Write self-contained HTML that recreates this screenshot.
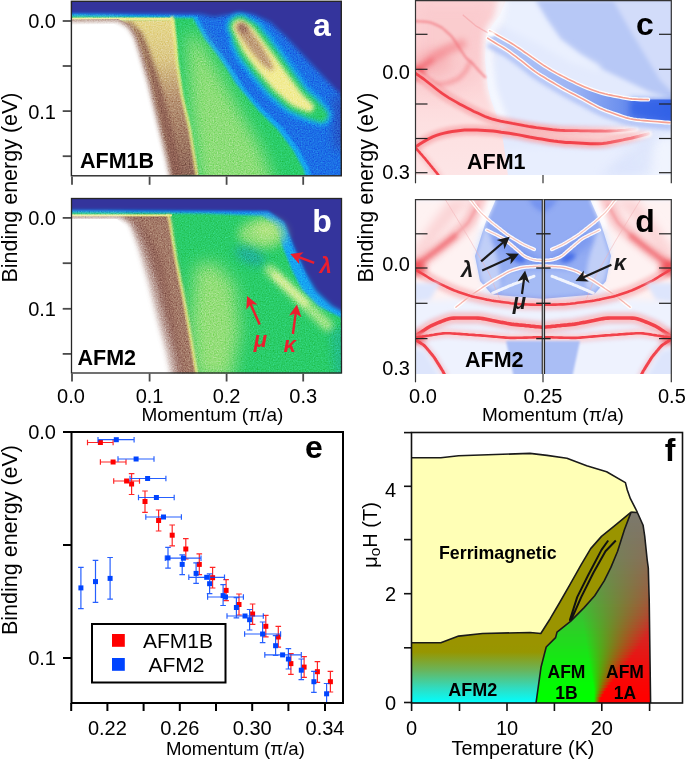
<!DOCTYPE html><html><head><meta charset="utf-8"><style>
html,body{margin:0;padding:0;background:#fff;width:685px;height:760px;overflow:hidden}
svg{display:block;font-family:"Liberation Sans",sans-serif;will-change:transform}
</style></head><body>
<svg width="685" height="760" viewBox="0 0 685 760">
<defs>
<clipPath id="cpa"><rect x="71.5" y="1.5" width="270" height="174"/></clipPath>
<clipPath id="cpb"><rect x="71.5" y="198.5" width="270" height="175"/></clipPath>
<clipPath id="cpc"><rect x="415.5" y="0.5" width="256" height="174.5"/></clipPath>
<clipPath id="cpd"><rect x="415.5" y="199.5" width="256" height="174.5"/></clipPath>
<clipPath id="cpe"><rect x="72.5" y="433" width="269.5" height="269"/></clipPath>
<clipPath id="cpf"><rect x="411.5" y="432.5" width="271" height="270.5"/></clipPath>
</defs>

<defs>
<filter id="bl1" filterUnits="userSpaceOnUse" x="0" y="0" width="685" height="760"><feGaussianBlur stdDeviation="1"/></filter>
<filter id="bl2" filterUnits="userSpaceOnUse" x="0" y="0" width="685" height="760"><feGaussianBlur stdDeviation="2"/></filter>
<filter id="bl3" filterUnits="userSpaceOnUse" x="0" y="0" width="685" height="760"><feGaussianBlur stdDeviation="3"/></filter>
<filter id="bl5" filterUnits="userSpaceOnUse" x="0" y="0" width="685" height="760"><feGaussianBlur stdDeviation="5"/></filter>
<filter id="bl8" filterUnits="userSpaceOnUse" x="0" y="0" width="685" height="760"><feGaussianBlur stdDeviation="8"/></filter>
<filter id="nz" x="0" y="0" width="100%" height="100%" color-interpolation-filters="sRGB"><feTurbulence type="fractalNoise" baseFrequency="0.75" numOctaves="1" seed="7"/><feColorMatrix type="matrix" values="0.33 0.33 0.33 0 0  0.33 0.33 0.33 0 0  0.33 0.33 0.33 0 0  0 0 0 0 1"/><feComponentTransfer><feFuncR type="linear" slope="2.2" intercept="-0.6"/><feFuncG type="linear" slope="2.2" intercept="-0.6"/><feFuncB type="linear" slope="2.2" intercept="-0.6"/></feComponentTransfer></filter>
<linearGradient id="gband" x1="0" y1="20" x2="0" y2="176" gradientUnits="userSpaceOnUse">
<stop offset="0" stop-color="#e6d88c"/><stop offset="0.25" stop-color="#dcc888"/><stop offset="0.5" stop-color="#b89474"/><stop offset="1" stop-color="#8e6558"/></linearGradient>
<linearGradient id="gband2" x1="0" y1="217" x2="0" y2="373" gradientUnits="userSpaceOnUse">
<stop offset="0" stop-color="#b89078"/><stop offset="0.3" stop-color="#9a7062"/><stop offset="1" stop-color="#8e6558"/></linearGradient>
</defs><g clip-path="url(#cpa)"><rect x="60" y="0" width="290" height="180" fill="#34349c"/><polygon points="60,13.5 200,14 214,17 226,15 238,13.5 252,14 270,22 286,37 301,53 318,71 335,89 350,102 350,190 60,190" fill="#1c6fe6" filter="url(#bl2)" /><polygon points="332,96 350,96 350,150 334,150" fill="#34349c" filter="url(#bl5)" opacity="0.45"/><polygon points="60,14 197,16 208,37 220,52 231,67 240,81 246,90 262,108 283,128 298,148 309,168 314,190 60,190" fill="#12a6f2" filter="url(#bl1)" /><polygon points="60,16 193,18 204.6,39.2 216.3,53.8 226.5,68.4 235.3,83 242,91 258,110 278,130 293,150 304,170 308,190 60,190" fill="#2ccd6a" filter="url(#bl1)" /><polygon points="186,30 200,40 218,70 240,110 262,150 276,190 200,190 190,110" fill="#a8e27e" filter="url(#bl8)" opacity="0.8"/><polygon points="250.4,17.8 252.1,18.1 254.2,18.7 256.7,19.9 259.2,21.3 261.3,23.2 263.0,25.2 264.6,27.2 266.0,29.0 267.3,30.6 268.5,32.0 269.7,33.3 270.8,34.6 271.8,36.0 272.8,37.4 274.0,39.0 275.3,40.7 276.5,42.4 277.8,44.0 279.0,45.7 280.3,47.4 281.5,49.0 282.7,50.6 283.9,52.3 285.1,53.9 286.3,55.6 287.5,57.3 288.7,59.0 289.9,60.7 291.2,62.4 292.4,64.1 293.6,65.8 294.7,67.4 295.7,68.8 296.8,70.2 297.8,71.7 298.8,73.2 299.9,74.8 301.2,76.6 302.4,78.3 303.7,80.0 304.9,81.7 305.9,83.1 306.6,84.2 307.3,85.2 308.1,86.1 308.8,87.1 310.0,88.2 311.5,89.6 313.1,91.0 314.7,92.4 316.4,93.8 318.0,95.3 319.5,96.9 321.0,98.6 322.4,100.2 323.8,101.9 325.3,103.5 326.3,105.0 327.1,106.1 330.1,109.2 331.7,113.1 331.7,117.4 330.1,121.4 327.1,124.4 323.1,126.1 318.8,126.1 314.9,124.5 313.5,124.2 311.8,123.8 309.7,123.1 307.6,122.4 305.6,121.8 303.5,121.1 301.5,120.5 299.6,119.6 297.7,118.8 295.8,117.9 293.9,117.0 291.9,116.1 289.5,114.9 287.0,113.4 284.5,111.8 282.1,110.0 279.8,108.1 278.0,106.4 276.4,105.0 274.8,103.6 273.2,102.3 271.6,100.9 269.9,99.4 268.1,97.8 266.4,96.1 264.7,94.3 263.1,92.5 261.7,90.7 260.3,89.1 258.9,87.5 257.6,85.9 256.2,84.3 254.9,82.7 253.5,81.1 252.1,79.4 250.7,77.8 249.3,76.1 248.0,74.3 246.7,72.6 245.4,70.9 244.2,69.2 242.9,67.6 241.7,65.9 240.4,64.2 239.1,62.4 237.6,60.5 236.2,58.4 235.0,56.3 233.9,54.1 232.8,51.9 231.9,49.9 231.1,48.1 230.5,46.5 229.9,45.2 229.5,43.6 229.5,41.7 229.3,39.6 229.1,37.8 229.2,36.1 226.5,31.3 225.9,25.9 227.3,20.6 230.7,16.3 235.5,13.6 240.9,13.0 246.2,14.5" fill="#12a6f2" filter="url(#bl2)" /><polygon points="248.2,19.8 249.6,20.2 251.4,21.1 253.5,22.4 255.7,24.0 257.6,25.7 259.3,27.7 260.8,29.6 262.2,31.3 263.5,32.9 264.7,34.4 265.9,35.8 267.1,37.1 268.1,38.6 269.2,40.1 270.4,41.7 271.7,43.4 272.9,45.1 274.2,46.7 275.4,48.4 276.7,50.1 277.9,51.7 279.2,53.3 280.4,55.0 281.5,56.7 282.7,58.3 283.9,60.0 285.2,61.8 286.4,63.5 287.6,65.2 288.8,66.9 290.0,68.6 291.2,70.2 292.3,71.7 293.4,73.1 294.4,74.7 295.5,76.3 296.6,77.9 297.9,79.6 299.1,81.3 300.4,83.0 301.6,84.7 302.6,86.2 303.5,87.5 304.4,88.6 305.3,89.7 306.3,90.8 307.5,92.0 309.1,93.4 310.7,94.8 312.3,96.2 313.9,97.6 315.5,99.0 317.0,100.6 318.5,102.2 320.0,103.8 321.5,105.4 323.0,107.0 324.1,108.4 324.8,109.5 326.8,111.4 327.8,113.9 327.8,116.7 326.8,119.2 324.8,121.1 322.3,122.2 319.6,122.2 317.1,121.1 315.7,120.9 314.1,120.3 312.0,119.6 310.0,118.9 308.0,118.1 306.0,117.4 304.0,116.7 302.1,115.8 300.2,115.0 298.3,114.1 296.3,113.2 294.3,112.3 292.1,111.2 289.7,109.9 287.4,108.4 285.2,106.7 283.1,105.0 281.3,103.4 279.7,102.0 278.1,100.6 276.5,99.2 274.9,97.8 273.2,96.4 271.5,94.8 269.8,93.2 268.2,91.5 266.7,89.7 265.2,88.0 263.8,86.4 262.5,84.7 261.1,83.1 259.8,81.5 258.4,79.9 257.0,78.3 255.7,76.7 254.3,75.0 252.9,73.4 251.6,71.6 250.3,69.9 249.0,68.2 247.8,66.5 246.5,64.9 245.3,63.2 244.0,61.5 242.7,59.7 241.3,57.8 239.9,55.9 238.7,53.8 237.6,51.6 236.7,49.5 235.8,47.6 235.0,45.7 234.2,44.1 233.6,42.6 233.0,41.0 232.6,39.2 232.1,37.3 231.7,35.6 231.5,34.1 229.4,30.4 228.9,26.1 230.0,22.0 232.7,18.6 236.4,16.5 240.7,16.0 244.8,17.1" fill="#2ccd6a" filter="url(#bl2)" /><polygon points="245.4,22.0 246.5,22.5 247.9,23.3 249.6,24.5 251.3,25.8 253.0,27.3 254.4,28.9 255.7,30.6 256.9,32.3 258.1,33.7 259.2,35.2 260.3,36.6 261.3,37.9 262.4,39.2 263.3,40.6 264.3,41.9 265.3,43.3 266.4,44.7 267.5,46.2 268.7,47.7 269.8,49.2 270.9,50.7 272.0,52.2 273.1,53.6 274.2,55.1 275.3,56.5 276.4,58.0 277.4,59.5 278.5,61.0 279.5,62.5 280.6,64.0 281.7,65.5 282.8,67.0 283.8,68.5 284.9,70.0 286.0,71.5 287.1,73.0 288.1,74.4 289.1,75.7 290.0,77.1 291.0,78.5 292.0,80.0 293.1,81.5 294.2,83.0 295.3,84.5 296.4,86.0 297.5,87.5 298.6,89.0 299.5,90.4 300.4,91.5 301.3,92.6 302.2,93.8 303.2,94.9 304.4,96.1 305.8,97.4 307.2,98.7 308.6,99.9 309.9,101.2 311.0,102.3 311.8,103.2 313.2,104.5 313.9,106.3 314.0,108.3 313.3,110.1 311.9,111.5 310.1,112.3 308.2,112.3 306.4,111.6 305.2,111.3 303.8,110.8 302.1,110.0 300.3,109.3 298.6,108.6 296.8,107.9 294.9,107.0 292.9,106.0 291.0,104.9 289.2,103.5 287.4,102.1 285.8,100.7 284.4,99.5 283.0,98.3 281.6,97.0 280.2,95.8 278.8,94.6 277.3,93.4 275.9,92.1 274.4,90.7 272.9,89.3 271.6,87.7 270.3,86.2 269.0,84.8 267.8,83.3 266.6,81.9 265.4,80.5 264.2,79.1 263.0,77.7 261.8,76.3 260.6,74.8 259.4,73.4 258.2,71.9 257.0,70.5 255.9,69.0 254.7,67.5 253.6,66.0 252.5,64.5 251.4,63.0 250.3,61.5 249.1,60.0 248.0,58.5 246.9,57.0 245.7,55.4 244.5,53.8 243.4,52.0 242.4,50.2 241.5,48.4 240.6,46.7 239.8,45.0 239.0,43.3 238.2,41.8 237.5,40.4 236.8,39.0 236.3,37.5 235.7,36.0 235.0,34.3 234.4,32.9 234.0,31.7 232.6,29.2 232.2,26.3 233.0,23.5 234.8,21.2 237.4,19.7 240.3,19.4 243.1,20.2" fill="#f2ec96" filter="url(#bl2)" /><polygon points="243.8,24.5 244.2,24.8 244.8,25.2 245.5,25.8 246.2,26.4 246.9,27.0 247.6,27.6 248.3,28.2 249.0,28.8 249.7,29.4 250.5,30.1 251.1,30.9 251.7,31.7 252.3,32.5 252.8,33.2 253.3,33.9 253.9,34.7 254.4,35.4 254.9,36.1 255.4,36.9 255.9,37.6 256.5,38.3 257.0,39.0 257.5,39.8 258.0,40.5 258.5,41.2 259.1,42.0 259.6,42.7 260.1,43.4 260.6,44.1 261.1,44.9 261.6,45.7 262.0,46.4 262.5,47.2 262.9,48.0 263.4,48.8 263.9,49.5 264.3,50.3 264.8,51.1 265.2,51.9 265.7,52.6 266.1,53.4 266.6,54.2 267.1,55.0 267.5,55.7 268.0,56.5 268.4,57.3 268.8,58.0 269.3,58.7 269.7,59.4 270.0,60.2 270.3,61.0 270.7,61.8 271.1,62.7 271.5,63.5 271.9,64.3 272.3,65.2 272.7,66.0 273.0,66.7 273.2,67.3 273.6,68.0 273.6,68.7 273.4,69.5 273.0,70.1 272.3,70.5 271.5,70.6 270.7,70.4 270.1,69.9 269.6,69.6 268.9,69.3 268.2,68.7 267.4,68.2 266.6,67.7 265.9,67.2 265.1,66.6 264.3,66.1 263.5,65.5 262.7,64.9 262.0,64.2 261.4,63.5 260.8,62.8 260.2,62.1 259.6,61.4 259.0,60.7 258.4,60.0 257.8,59.3 257.3,58.7 256.7,58.0 256.1,57.3 255.5,56.6 254.9,55.9 254.3,55.2 253.7,54.6 253.2,53.9 252.6,53.2 252.0,52.5 251.4,51.8 250.9,51.1 250.3,50.4 249.8,49.7 249.3,48.9 248.8,48.2 248.3,47.5 247.7,46.7 247.2,46.0 246.7,45.3 246.2,44.6 245.7,43.8 245.1,43.1 244.6,42.4 244.1,41.6 243.6,40.9 243.0,40.2 242.5,39.5 242.1,38.8 241.6,38.2 241.1,37.5 240.7,36.8 240.3,36.1 239.9,35.4 239.4,34.6 238.9,33.8 238.5,33.0 238.0,32.3 237.5,31.5 237.2,30.8 236.9,30.3 236.1,28.8 235.9,27.1 236.3,25.4 237.4,24.0 239.0,23.1 240.7,22.9 242.4,23.4" fill="#b68e74" filter="url(#bl2)" opacity="0.85"/><ellipse cx="243" cy="28" rx="6" ry="4" transform="rotate(50 243 28)" fill="#94645a" filter="url(#bl2)" opacity="0.8"/><polygon points="118,19.5 174,19 176,40 177,60 182,95 190,130 198,176 171,176 166,155 160,130 154,105 148,80 145,70 139,50 133,35 127,26" fill="url(#gband)" filter="url(#bl1)" /><polygon points="117,20 127,24 135,34 141,50 147,70 152,90 158,112 165,140 171,176 182,176 177,150 170,120 162,90 156,70 149,50 142,33 131,22" fill="#8e5e52" filter="url(#bl2)" opacity="0.85"/><polyline points="172,16 175,40 177,62 182,96 190,130 197,176" fill="none" stroke="#f0f08a" stroke-width="2.5" filter="url(#bl1)"/><rect x="60" y="17.6" width="112" height="2.6" fill="#ecea90" filter="url(#bl05)"/><polygon points="60,19.5 118,19 129,24 136,34 142,50 148,70 151,82 157,107 163,132 169,157 174,180 60,180" fill="#a07868" /><polygon points="60,22.5 117,22 125,27 130,36 136,51 141,71 144,81 150,106 156,131 162,156 167,180 60,180" fill="#ffffff" filter="url(#bl5)" opacity="0.8"/><polygon points="60,22.5 118,22 128,28 134,38 138,51 144,71 147,81 153,106 159,131 165,156 170,180 60,180" fill="#ffffff" filter="url(#bl2)" /><polygon points="60,24.5 114,24 122,29 128,38 134,53 140,73 143,83 149,108 155,133 161,158 165,180 60,180" fill="#ffffff" /><clipPath id="nca"><polygon points="60,14 200,14.5 214,17 226,15 238,13.5 252,14 270,22 286,37 301,53 318,71 335,89 350,102 350,190 60,190"/></clipPath><rect x="71" y="1" width="271" height="175" filter="url(#nz)" opacity="0.42" clip-path="url(#nca)" style="mix-blend-mode:overlay"/></g>
<g clip-path="url(#cpb)"><rect x="60" y="190" width="290" height="190" fill="#34349c"/><polygon points="60,210.3 205,211 268,211 284,222 294,248 304,270 314,292 330,308 350,316 350,380 60,380" fill="#1c6fe6" filter="url(#bl1)" /><polygon points="60,211.2 205,212 268,213 284,224 294,249 304,271 316,291 332,306 350,316 350,380 60,380" fill="#12a6f2" filter="url(#bl2)" /><polygon points="60,212.4 205,213.5 262,216 275,226 283,248 292,270 302,290 318,306 342,318 350,322 350,380 60,380" fill="#2ccd6a" filter="url(#bl1)" /><polygon points="195,265 215,262 235,285 240,330 232,380 195,380 190,320" fill="#a8e27e" filter="url(#bl8)" opacity="0.85"/><ellipse cx="262" cy="234" rx="24" ry="15" fill="#a8e27e" filter="url(#bl5)" opacity="0.8"/><ellipse cx="266" cy="230" rx="12" ry="9" fill="#c4e88a" filter="url(#bl5)" opacity="0.7"/><ellipse cx="250" cy="256" rx="16" ry="8" transform="rotate(25 250 256)" fill="#1ea8a8" filter="url(#bl5)" opacity="0.75"/><line x1="270" y1="270" x2="328" y2="326" stroke="#c8ec92" stroke-width="11" stroke-linecap="round" filter="url(#bl3)" opacity="0.8"/><line x1="276" y1="276" x2="305" y2="303" stroke="#e4f0a0" stroke-width="7" stroke-linecap="round" filter="url(#bl2)" opacity="0.8"/><polygon points="330,330 350,325 350,380 335,380" fill="#18a0c0" filter="url(#bl5)" opacity="0.35"/><polygon points="60,216 170,216 172,240 176,260 184,300 191,340 197,380 60,380" fill="#94665a" filter="url(#bl05)" /><polygon points="118,217 170,216.5 172,240 176,260 184,300 191,340 197,380 185,380 178,340 170,300 162,260 150,235 140,222" fill="#b08a74" filter="url(#bl3)" opacity="0.6"/><polyline points="168,214 170,222 176,260 184,300 191,340 197,376" fill="none" stroke="#f0f08a" stroke-width="2.6" filter="url(#bl1)"/><rect x="60" y="214.4" width="112" height="2" fill="#ecea90" filter="url(#bl05)"/><polygon points="60,218.5 122,218 133,225 143,248 154,283 164,323 172,353 178,380 60,380" fill="#ffffff" filter="url(#bl5)" opacity="0.7"/><polygon points="60,218.3 120,218 129,224 137,246 147,281 157,321 165,351 171,380 60,380" fill="#ffffff" filter="url(#bl2)" /><polygon points="60,219 117,219 125,226 132,248 141,283 151,323 158,353 164,380 60,380" fill="#ffffff" /><clipPath id="ncb"><polygon points="60,211 205,211.5 268,211.5 284,222 294,248 304,270 314,292 330,308 350,316 350,380 60,380"/></clipPath><rect x="71" y="198" width="271" height="176" filter="url(#nz)" opacity="0.42" clip-path="url(#ncb)" style="mix-blend-mode:overlay"/></g><line x1="314.2" y1="262.9" x2="296.9" y2="256.4" stroke="#ec1e2e" stroke-width="2.4"/><polygon points="290.2,253.9 303.6,252.3 298.6,257.1 299.3,263.9" fill="#ec1e2e"/><line x1="259.7" y1="324.5" x2="250.0" y2="302.7" stroke="#ec1e2e" stroke-width="2.4"/><polygon points="247.1,296.1 257.6,304.6 250.7,304.3 246.3,309.6" fill="#ec1e2e"/><line x1="292.9" y1="334.0" x2="295.9" y2="311.6" stroke="#ec1e2e" stroke-width="2.4"/><polygon points="296.9,304.5 301.4,317.2 295.7,313.4 289.1,315.6" fill="#ec1e2e"/><text x="325.5" y="272.9" font-size="22" font-weight="bold" font-style="italic" fill="#ec1e2e" text-anchor="middle">λ</text><text x="260.5" y="347" font-size="22" font-weight="bold" font-style="italic" fill="#ec1e2e" text-anchor="middle">μ</text><text x="289.8" y="351.8" font-size="22" font-weight="bold" font-style="italic" fill="#ec1e2e" text-anchor="middle">κ</text>
<defs><filter id="bl05" filterUnits="userSpaceOnUse" x="0" y="0" width="685" height="760"><feGaussianBlur stdDeviation="0.5"/></filter>
<linearGradient id="gpink" x1="0" y1="0" x2="0" y2="176" gradientUnits="userSpaceOnUse"><stop offset="0" stop-color="#fcd6d8"/><stop offset="0.45" stop-color="#fcd4d6"/><stop offset="0.7" stop-color="#fde0e1"/><stop offset="1" stop-color="#fde5e6"/></linearGradient>
<linearGradient id="gfA" x1="415" y1="0" x2="640" y2="0" gradientUnits="userSpaceOnUse"><stop offset="0" stop-color="#f2434c"/><stop offset="0.6" stop-color="#f2434c"/><stop offset="0.85" stop-color="#f46a72" stop-opacity="0.8"/><stop offset="1" stop-color="#f8a0a4" stop-opacity="0"/></linearGradient>
<linearGradient id="gfB" x1="415" y1="0" x2="652" y2="0" gradientUnits="userSpaceOnUse"><stop offset="0" stop-color="#f2434c"/><stop offset="0.75" stop-color="#f2434c"/><stop offset="0.92" stop-color="#f46a72" stop-opacity="0.8"/><stop offset="1" stop-color="#f8a0a4" stop-opacity="0.1"/></linearGradient>
<linearGradient id="gdbl" x1="490" y1="0" x2="672" y2="0" gradientUnits="userSpaceOnUse"><stop offset="0" stop-color="#b6c8f7"/><stop offset="0.45" stop-color="#9cb4f4"/><stop offset="0.72" stop-color="#6c90ee"/><stop offset="1" stop-color="#3c68e8"/></linearGradient>
</defs><g clip-path="url(#cpc)"><rect x="410" y="0" width="265" height="180" fill="#e3eafd"/><polygon points="534,0 546,20 560,40 580,55 600,68 625,80 650,92 672,98 675,98 675,0" fill="#b7c8f6" filter="url(#bl2)" /><polygon points="613,0 630,30 648,60 660,80 672,92 675,92 675,0" fill="#d2dcfa" filter="url(#bl2)" /><polygon points="500,0 534,0 546,20 560,40 580,55 600,66 600,72 570,62 540,45 510,30 495,20" fill="#eaf0fe" filter="url(#bl3)" /><polygon points="505,150 540,148 600,150 640,146 672,140 676,140 676,180 505,180" fill="#e8eefe" filter="url(#bl3)" /><polygon points="630,150 672,136 676,136 676,180 640,180" fill="#f0f4fe" filter="url(#bl5)" /><polygon points="600,176 640,140 655,135 650,176" fill="#d8e1fb" filter="url(#bl5)" opacity="0.7"/><polygon points="410,0 506,0 500,15 491,27 486,40 485,60 488,88 491,100 496,113 500,125 503,140 506,160 508,176 410,176" fill="url(#gpink)" filter="url(#bl05)" /><polygon points="415,0 495,0 490,30 480,70 460,90 430,95 415,90" fill="#f9c0c4" filter="url(#bl8)" opacity="0.45"/><ellipse cx="432" cy="62" rx="20" ry="14" fill="#f6a6ab" filter="url(#bl5)" opacity="0.45"/><ellipse cx="417" cy="73" rx="7" ry="6" fill="#f03a44" filter="url(#bl3)" opacity="0.8"/><path d="M502.7 1.3 L502.5 2.6 L502.1 4.4 L501.7 6.6 L501.2 8.8 L500.8 10.9 L500.4 13.1 L499.9 15.3 L499.3 17.4 L498.5 19.4 L497.4 21.3 L496.2 23.1 L494.7 24.8 L493.2 26.4 L491.9 28.2 L490.9 30.0 L490.1 32.0 L489.5 34.1 L489.2 36.3 L488.9 38.5 L488.6 40.7 L488.3 42.9 L488.2 45.1 L488.1 47.4 L488.0 49.6 L488.0 51.8 L488.0 54.1 L488.0 56.3 L488.1 58.5 L488.2 60.8 L488.4 63.0 L488.6 65.2 L488.8 67.4 L489.0 69.6 L489.3 71.9 L489.5 74.1 L489.7 76.3 L490.0 78.5 L490.2 80.7 L490.5 83.0 L490.8 85.2 L491.2 87.3 L491.7 89.5 L492.2 91.7 L492.9 93.8 L493.6 95.9 L494.4 98.0 L495.1 100.1 L495.9 102.2 L496.7 104.3 L497.5 106.4 L498.3 108.5 L499.1 110.5 L499.9 112.6 L500.7 114.7 L501.6 116.8 L502.4 118.8 L503.3 120.9 L504.0 122.5 L504.5 123.8" fill="none" stroke="#f8faff" stroke-width="10" stroke-linecap="round" opacity="0.9" filter="url(#bl3)" /><path d="M414.0 21.1 L415.0 21.1 L416.3 21.2 L418.0 21.3 L419.6 21.4 L421.3 21.5 L422.9 21.6 L424.6 21.7 L426.2 21.8 L427.8 22.0 L429.4 22.3 L431.0 22.7 L432.6 23.3 L434.1 23.9 L435.6 24.6 L437.1 25.2 L438.6 25.9 L440.1 26.7 L441.5 27.5 L442.8 28.5 L444.1 29.5 L445.4 30.6 L446.6 31.7 L447.8 32.8 L449.1 33.9 L450.2 35.0 L451.4 36.2 L452.4 37.5 L453.4 38.8 L454.3 40.2 L455.2 41.6 L456.1 43.0 L457.0 44.3 L458.0 45.7 L458.9 47.1 L459.8 48.5 L460.7 49.9 L461.6 51.3 L462.5 52.6 L463.4 54.0 L464.3 55.4 L465.3 56.7 L466.4 57.9 L467.5 59.1 L468.7 60.2 L470.0 61.3 L471.3 62.4 L472.5 63.5 L473.6 64.7 L474.7 65.9 L475.8 67.2 L476.9 68.4 L478.0 69.7 L479.1 70.9 L480.2 72.1 L481.3 73.3 L482.5 74.5 L483.7 75.7 L484.6 76.6 L485.3 77.3" fill="none" stroke="#f27a82" stroke-width="2.2" stroke-linecap="round" opacity="0.75" filter="url(#bl1)" /><path d="M463.2 15.2 L463.5 15.4 L463.8 15.7 L464.2 16.0 L464.6 16.4 L465.0 16.7 L465.4 17.0 L465.8 17.4 L466.2 17.7 L466.6 18.0 L467.0 18.4 L467.4 18.7 L467.8 19.1 L468.2 19.4 L468.6 19.7 L469.0 20.1 L469.4 20.4 L469.8 20.8 L470.2 21.1 L470.6 21.4 L471.0 21.8 L471.4 22.1 L471.8 22.4 L472.2 22.8 L472.6 23.1 L473.0 23.5 L473.4 23.8 L473.8 24.1 L474.2 24.5 L474.6 24.8 L475.0 25.2 L475.4 25.5 L475.8 25.8 L476.3 26.1 L476.7 26.4 L477.1 26.7 L477.6 26.9 L478.0 27.2 L478.5 27.5 L478.9 27.7 L479.4 28.0 L479.9 28.2 L480.3 28.5 L480.8 28.8 L481.2 29.0 L481.7 29.3 L482.1 29.6 L482.6 29.8 L483.0 30.1 L483.5 30.4 L483.9 30.6 L484.4 30.9 L484.8 31.2 L485.3 31.4 L485.7 31.7 L486.2 31.9 L486.6 32.2 L487.1 32.5 L487.5 32.7 L487.7 32.8" fill="none" stroke="#f4a0a4" stroke-width="1.4" stroke-linecap="round" opacity="0.6" filter="url(#bl05)" /><path d="M413.5 73.6 L413.9 73.2 L414.5 72.7 L415.3 72.1 L416.0 71.5 L416.8 70.9 L417.5 70.2 L418.3 69.6 L419.0 69.0 L419.8 68.3 L420.5 67.7 L421.3 67.1 L422.1 66.5 L422.8 65.8 L423.6 65.2 L424.3 64.6 L425.1 64.0 L425.9 63.4 L426.7 62.8 L427.5 62.2 L428.3 61.6 L429.1 61.0 L429.9 60.5 L430.6 59.9 L431.4 59.3 L432.2 58.7 L433.0 58.2 L433.8 57.6 L434.6 57.0 L435.4 56.5 L436.3 55.9 L437.1 55.4 L437.9 54.9 L438.8 54.4 L439.6 53.9 L440.5 53.4 L441.3 52.9 L442.2 52.4 L443.0 51.9 L443.9 51.4 L444.7 50.9 L445.6 50.4 L446.4 49.9 L447.3 49.5 L448.2 49.0 L449.1 48.7 L450.0 48.3 L450.9 48.0 L451.8 47.6 L452.7 47.3 L453.7 47.0 L454.6 46.6 L455.5 46.3 L456.4 46.0 L457.4 45.7 L458.3 45.3 L459.2 45.0 L460.1 44.7 L460.9 44.4 L461.4 44.2" fill="none" stroke="#f27078" stroke-width="10" stroke-linecap="round" opacity="0.5" filter="url(#bl3)" /><path d="M413.2 73.9 L413.4 73.7 L413.6 73.5 L413.9 73.3 L414.3 73.0 L414.6 72.8 L414.9 72.5 L415.2 72.3 L415.5 72.0 L415.8 71.8 L416.2 71.5 L416.5 71.3 L416.8 71.1 L417.1 70.8 L417.4 70.6 L417.7 70.3 L418.1 70.1 L418.4 69.8 L418.7 69.6 L419.0 69.3 L419.3 69.1 L419.6 68.8 L419.9 68.6 L420.3 68.3 L420.6 68.1 L420.9 67.9 L421.2 67.6 L421.5 67.4 L421.8 67.1 L422.2 66.9 L422.5 66.7 L422.8 66.4 L423.1 66.2 L423.5 66.0 L423.8 65.7 L424.1 65.5 L424.5 65.3 L424.8 65.0 L425.1 64.8 L425.4 64.6 L425.8 64.4 L426.1 64.1 L426.4 63.9 L426.8 63.7 L427.1 63.4 L427.4 63.2 L427.7 63.0 L428.1 62.8 L428.4 62.5 L428.7 62.3 L429.0 62.1 L429.4 61.8 L429.7 61.6 L430.0 61.4 L430.4 61.1 L430.7 60.9 L431.0 60.7 L431.3 60.5 L431.6 60.3 L431.8 60.1" fill="none" stroke="#f04c56" stroke-width="4" stroke-linecap="round" opacity="0.45" filter="url(#bl2)" /><path d="M415.6 73.4 L416.2 73.8 L416.9 74.3 L417.9 74.9 L418.8 75.6 L419.8 76.2 L420.8 76.8 L421.7 77.5 L422.7 78.1 L423.7 78.7 L424.7 79.3 L425.7 79.8 L426.8 80.3 L427.8 80.8 L428.8 81.3 L429.9 81.8 L430.9 82.3 L432.0 82.8 L433.0 83.3 L434.1 83.8 L435.1 84.1 L436.2 84.2 L437.4 84.3 L438.5 84.2 L439.6 84.1 L440.8 84.0 L441.9 83.9 L443.1 83.8 L444.2 83.7 L445.4 83.5 L446.5 83.3 L447.6 83.0 L448.7 82.7 L449.8 82.3 L450.9 81.8 L451.9 81.4 L453.0 81.0 L454.1 80.6 L455.2 80.1 L456.2 79.7 L457.3 79.2 L458.2 78.6 L459.2 78.0 L460.0 77.2 L460.8 76.4 L461.6 75.6 L462.4 74.8 L463.2 73.9 L464.0 73.1 L464.8 72.2 L465.5 71.3 L466.1 70.4 L466.7 69.4 L467.2 68.3 L467.7 67.3 L468.1 66.2 L468.6 65.2 L469.1 64.1 L469.4 63.3 L469.7 62.6" fill="none" stroke="#f05a62" stroke-width="3.2" stroke-linecap="round" opacity="0.5" filter="url(#bl2)" /><polygon points="515,124 558,130.4 600,131.1 630,130 650,133 630,138.4 601,144.2 558,142 529,137 515,134 500,131" fill="#fbdcdc" filter="url(#bl2)" /><path d="M415.0 72.8 L417.0 74.3 L419.6 76.2 L422.9 78.5 L426.2 81.0 L429.4 83.5 L432.6 86.0 L435.7 88.5 L438.9 91.0 L442.1 93.4 L445.5 95.7 L448.9 97.9 L452.4 99.9 L456.0 101.9 L459.5 103.9 L463.1 105.8 L466.7 107.7 L470.3 109.6 L473.9 111.4 L477.6 113.1 L481.3 114.8 L485.0 116.5 L488.8 117.9 L492.6 119.2 L496.5 120.2 L500.4 121.1 L504.4 121.9 L508.4 122.6 L512.4 123.4 L516.4 124.1 L520.4 124.9 L524.4 125.7 L528.4 126.4 L532.4 127.0 L536.4 127.6 L540.4 128.1 L544.5 128.6 L548.5 129.1 L552.5 129.6 L556.6 130.0 L560.6 130.3 L564.7 130.5 L568.7 130.6 L572.8 130.6 L576.9 130.7 L580.9 130.8 L585.0 130.8 L589.0 130.9 L593.1 131.0 L597.2 131.0 L601.2 131.0 L605.3 131.1 L609.4 131.0 L613.4 130.9 L617.5 130.7 L621.5 130.4 L625.6 130.1 L629.6 129.7 L632.8 129.4 L635.3 129.2" fill="none" stroke="#ffffff" stroke-width="7" stroke-linecap="round" opacity="0.8" filter="url(#bl1)" /><path d="M417.1 145.9 L419.1 144.5 L421.9 142.7 L425.4 140.6 L429.0 138.7 L432.6 136.9 L436.4 135.4 L440.3 134.1 L444.2 133.1 L448.2 132.2 L452.2 131.5 L456.3 130.9 L460.4 130.5 L464.5 130.1 L468.5 129.9 L472.6 129.9 L476.7 130.0 L480.8 130.2 L484.9 130.4 L489.0 130.7 L493.1 131.1 L497.1 131.6 L501.2 132.2 L505.3 132.7 L509.3 133.3 L513.4 133.9 L517.4 134.6 L521.4 135.4 L525.5 136.2 L529.5 137.0 L533.5 137.7 L537.5 138.4 L541.6 139.1 L545.6 139.8 L549.7 140.5 L553.7 141.1 L557.8 141.6 L561.9 142.0 L565.9 142.4 L570.0 142.6 L574.1 142.8 L578.2 143.0 L582.3 143.2 L586.4 143.4 L590.5 143.7 L594.6 143.8 L598.7 143.7 L602.7 143.4 L606.8 143.0 L610.8 142.3 L614.8 141.5 L618.8 140.7 L622.9 139.9 L626.9 139.0 L630.9 138.2 L634.9 137.2 L638.9 136.3 L642.8 135.3 L646.0 134.5 L648.4 133.9" fill="none" stroke="#ffffff" stroke-width="7" stroke-linecap="round" opacity="0.8" filter="url(#bl1)" /><path d="M415.0 72.8 L417.0 74.3 L419.6 76.2 L422.9 78.5 L426.2 81.0 L429.4 83.5 L432.6 86.0 L435.7 88.5 L438.9 91.0 L442.1 93.4 L445.5 95.7 L448.9 97.9 L452.4 99.9 L456.0 101.9 L459.5 103.9 L463.1 105.8 L466.7 107.7 L470.3 109.6 L473.9 111.4 L477.6 113.1 L481.3 114.8 L485.0 116.5 L488.8 117.9 L492.6 119.2 L496.5 120.2 L500.4 121.1 L504.4 121.9 L508.4 122.6 L512.4 123.4 L516.4 124.1 L520.4 124.9 L524.4 125.7 L528.4 126.4 L532.4 127.0 L536.4 127.6 L540.4 128.1 L544.5 128.6 L548.5 129.1 L552.5 129.6 L556.6 130.0 L560.6 130.3 L564.7 130.5 L568.7 130.6 L572.8 130.6 L576.9 130.7 L580.9 130.8 L585.0 130.8 L589.0 130.9 L593.1 131.0 L597.2 131.0 L601.2 131.0 L605.3 131.1 L609.4 131.0 L613.4 130.9 L617.5 130.7 L621.5 130.4 L625.6 130.1 L629.6 129.7 L632.8 129.4 L635.3 129.2" fill="none" stroke="url(#gfA)" stroke-width="8" stroke-linecap="round" opacity="0.45" filter="url(#bl2)" /><path d="M417.1 145.9 L419.1 144.5 L421.9 142.7 L425.4 140.6 L429.0 138.7 L432.6 136.9 L436.4 135.4 L440.3 134.1 L444.2 133.1 L448.2 132.2 L452.2 131.5 L456.3 130.9 L460.4 130.5 L464.5 130.1 L468.5 129.9 L472.6 129.9 L476.7 130.0 L480.8 130.2 L484.9 130.4 L489.0 130.7 L493.1 131.1 L497.1 131.6 L501.2 132.2 L505.3 132.7 L509.3 133.3 L513.4 133.9 L517.4 134.6 L521.4 135.4 L525.5 136.2 L529.5 137.0 L533.5 137.7 L537.5 138.4 L541.6 139.1 L545.6 139.8 L549.7 140.5 L553.7 141.1 L557.8 141.6 L561.9 142.0 L565.9 142.4 L570.0 142.6 L574.1 142.8 L578.2 143.0 L582.3 143.2 L586.4 143.4 L590.5 143.7 L594.6 143.8 L598.7 143.7 L602.7 143.4 L606.8 143.0 L610.8 142.3 L614.8 141.5 L618.8 140.7 L622.9 139.9 L626.9 139.0 L630.9 138.2 L634.9 137.2 L638.9 136.3 L642.8 135.3 L646.0 134.5 L648.4 133.9" fill="none" stroke="url(#gfB)" stroke-width="8" stroke-linecap="round" opacity="0.45" filter="url(#bl2)" /><path d="M415.0 72.8 L417.0 74.3 L419.6 76.2 L422.9 78.5 L426.2 81.0 L429.4 83.5 L432.6 86.0 L435.7 88.5 L438.9 91.0 L442.1 93.4 L445.5 95.7 L448.9 97.9 L452.4 99.9 L456.0 101.9 L459.5 103.9 L463.1 105.8 L466.7 107.7 L470.3 109.6 L473.9 111.4 L477.6 113.1 L481.3 114.8 L485.0 116.5 L488.8 117.9 L492.6 119.2 L496.5 120.2 L500.4 121.1 L504.4 121.9 L508.4 122.6 L512.4 123.4 L516.4 124.1 L520.4 124.9 L524.4 125.7 L528.4 126.4 L532.4 127.0 L536.4 127.6 L540.4 128.1 L544.5 128.6 L548.5 129.1 L552.5 129.6 L556.6 130.0 L560.6 130.3 L564.7 130.5 L568.7 130.6 L572.8 130.6 L576.9 130.7 L580.9 130.8 L585.0 130.8 L589.0 130.9 L593.1 131.0 L597.2 131.0 L601.2 131.0 L605.3 131.1 L609.4 131.0 L613.4 130.9 L617.5 130.7 L621.5 130.4 L625.6 130.1 L629.6 129.7 L632.8 129.4 L635.3 129.2" fill="none" stroke="url(#gfA)" stroke-width="2.8" stroke-linecap="round" opacity="1" filter="url(#bl05)" /><path d="M417.1 145.9 L419.1 144.5 L421.9 142.7 L425.4 140.6 L429.0 138.7 L432.6 136.9 L436.4 135.4 L440.3 134.1 L444.2 133.1 L448.2 132.2 L452.2 131.5 L456.3 130.9 L460.4 130.5 L464.5 130.1 L468.5 129.9 L472.6 129.9 L476.7 130.0 L480.8 130.2 L484.9 130.4 L489.0 130.7 L493.1 131.1 L497.1 131.6 L501.2 132.2 L505.3 132.7 L509.3 133.3 L513.4 133.9 L517.4 134.6 L521.4 135.4 L525.5 136.2 L529.5 137.0 L533.5 137.7 L537.5 138.4 L541.6 139.1 L545.6 139.8 L549.7 140.5 L553.7 141.1 L557.8 141.6 L561.9 142.0 L565.9 142.4 L570.0 142.6 L574.1 142.8 L578.2 143.0 L582.3 143.2 L586.4 143.4 L590.5 143.7 L594.6 143.8 L598.7 143.7 L602.7 143.4 L606.8 143.0 L610.8 142.3 L614.8 141.5 L618.8 140.7 L622.9 139.9 L626.9 139.0 L630.9 138.2 L634.9 137.2 L638.9 136.3 L642.8 135.3 L646.0 134.5 L648.4 133.9" fill="none" stroke="url(#gfB)" stroke-width="3.0" stroke-linecap="round" opacity="1" filter="url(#bl05)" /><path d="M415.3 147.5 L415.6 147.8 L415.9 148.3 L416.4 148.8 L416.9 149.3 L417.3 149.9 L417.8 150.4 L418.3 150.9 L418.8 151.5 L419.2 152.0 L419.7 152.5 L420.2 153.1 L420.6 153.6 L421.1 154.1 L421.6 154.7 L422.0 155.2 L422.5 155.7 L423.0 156.3 L423.5 156.8 L423.9 157.4 L424.4 157.9 L424.9 158.4 L425.3 159.0 L425.8 159.5 L426.2 160.1 L426.7 160.6 L427.1 161.2 L427.6 161.7 L428.0 162.3 L428.5 162.8 L428.9 163.4 L429.4 163.9 L429.8 164.5 L430.3 165.0 L430.7 165.6 L431.2 166.1 L431.6 166.7 L432.1 167.2 L432.5 167.8 L433.0 168.3 L433.4 168.9 L433.9 169.4 L434.3 170.0 L434.8 170.5 L435.2 171.1 L435.7 171.6 L436.1 172.2 L436.6 172.7 L437.0 173.3 L437.5 173.9 L437.9 174.4 L438.3 175.0 L438.7 175.6 L439.0 176.2 L439.4 176.8 L439.7 177.5 L440.0 178.1 L440.3 178.7 L440.6 179.2 L440.8 179.6" fill="none" stroke="#f47a80" stroke-width="6" stroke-linecap="round" opacity="0.3" filter="url(#bl2)" /><path d="M415.3 147.5 L415.6 147.8 L415.9 148.3 L416.4 148.8 L416.9 149.3 L417.3 149.9 L417.8 150.4 L418.3 150.9 L418.8 151.5 L419.2 152.0 L419.7 152.5 L420.2 153.1 L420.6 153.6 L421.1 154.1 L421.6 154.7 L422.0 155.2 L422.5 155.7 L423.0 156.3 L423.5 156.8 L423.9 157.4 L424.4 157.9 L424.9 158.4 L425.3 159.0 L425.8 159.5 L426.2 160.1 L426.7 160.6 L427.1 161.2 L427.6 161.7 L428.0 162.3 L428.5 162.8 L428.9 163.4 L429.4 163.9 L429.8 164.5 L430.3 165.0 L430.7 165.6 L431.2 166.1 L431.6 166.7 L432.1 167.2 L432.5 167.8 L433.0 168.3 L433.4 168.9 L433.9 169.4 L434.3 170.0 L434.8 170.5 L435.2 171.1 L435.7 171.6 L436.1 172.2 L436.6 172.7 L437.0 173.3 L437.5 173.9 L437.9 174.4 L438.3 175.0 L438.7 175.6 L439.0 176.2 L439.4 176.8 L439.7 177.5 L440.0 178.1 L440.3 178.7 L440.6 179.2 L440.8 179.6" fill="none" stroke="#f2434c" stroke-width="2.6" stroke-linecap="round" opacity="1" filter="url(#bl05)" /><polygon points="489.8,31.0 491.7,32.0 494.1,33.4 497.1,35.0 500.2,36.8 503.2,38.5 506.2,40.2 509.2,42.0 512.2,43.8 515.1,45.6 518.1,47.5 520.9,49.5 523.8,51.5 526.6,53.5 529.5,55.5 532.3,57.5 535.2,59.5 538.0,61.5 540.9,63.5 543.8,65.4 546.8,67.2 549.7,69.1 552.7,70.8 555.7,72.6 558.8,74.2 561.9,75.9 565.0,77.5 568.1,79.0 571.2,80.6 574.3,82.1 577.5,83.6 580.6,85.1 583.8,86.5 587.0,87.8 590.3,89.1 593.5,90.3 596.8,91.4 600.1,92.5 603.5,93.4 606.8,94.2 610.3,94.9 613.7,95.6 617.1,96.3 620.5,97.0 623.9,97.7 627.3,98.2 630.8,98.7 634.2,99.1 637.7,99.3 641.2,99.4 644.7,99.5 648.1,99.6 651.6,99.6 655.1,99.6 658.6,99.6 662.1,99.6 665.6,99.6 669.0,99.6 671.8,99.6 673.9,99.6 673.8,123.1 671.7,122.9 668.8,122.7 665.2,122.4 661.6,122.1 658.0,121.8 654.4,121.5 650.8,121.2 647.2,120.9 643.6,120.5 640.0,120.2 636.4,119.9 632.9,119.3 629.4,118.6 625.9,117.7 622.5,116.6 619.1,115.4 615.7,114.3 612.3,113.1 608.9,111.9 605.5,110.6 602.2,109.2 598.9,107.7 595.7,106.1 592.5,104.4 589.3,102.6 586.2,100.9 583.0,99.2 579.8,97.5 576.6,95.8 573.4,94.1 570.2,92.5 567.0,90.8 563.9,89.0 560.7,87.3 557.6,85.4 554.5,83.6 551.4,81.7 548.3,79.9 545.2,78.0 542.1,76.2 539.1,74.3 536.1,72.2 533.2,70.1 530.3,68.0 527.5,65.7 524.7,63.5 521.8,61.2 519.0,59.0 516.1,56.8 513.2,54.7 510.3,52.5 507.3,50.5 504.3,48.5 501.3,46.6 498.2,44.7 495.1,42.9 492.0,41.0 489.6,39.4 487.8,38.2" fill="url(#gdbl)" filter="url(#bl05)" /><path d="M489.9 45.9 L491.7 46.9 L494.2 48.1 L497.3 49.7 L500.4 51.3 L503.5 52.9 L506.5 54.7 L509.4 56.6 L512.2 58.5 L515.0 60.6 L517.8 62.7 L520.6 64.8 L523.3 67.0 L526.1 69.1 L528.8 71.2 L531.5 73.4 L534.3 75.4 L537.2 77.4 L540.1 79.3 L543.0 81.2 L546.0 83.0 L549.0 84.8 L552.0 86.6 L555.0 88.3 L558.0 90.1 L561.0 91.9 L564.0 93.6 L567.0 95.3 L570.1 96.9 L573.2 98.6 L576.3 100.2 L579.4 101.8 L582.4 103.4 L585.5 105.0 L588.6 106.7 L591.6 108.3 L594.7 110.0 L597.8 111.6 L600.9 113.0 L604.1 114.4 L607.4 115.6 L610.7 116.7 L614.0 117.9 L617.3 119.0 L620.5 120.1 L623.8 121.3 L627.2 122.2 L630.5 123.0 L633.9 123.7 L637.4 124.2 L640.8 124.5 L644.3 124.8 L647.7 125.2 L651.2 125.5 L654.7 125.8 L658.1 126.2 L661.6 126.5 L665.1 126.8 L667.8 127.1 L669.9 127.3" fill="none" stroke="#a8bcf5" stroke-width="5" stroke-linecap="round" opacity="0.9" filter="url(#bl2)" /><polygon points="630,99 650,99.6 676,99 676,121 650,119 630,116" fill="#2f5fe6" filter="url(#bl3)" opacity="0.75"/><path d="M489.6 30.9 L491.2 31.7 L493.3 32.9 L496.0 34.4 L498.6 35.9 L501.3 37.4 L503.9 38.9 L506.6 40.4 L509.2 41.9 L511.8 43.5 L514.4 45.1 L516.9 46.8 L519.5 48.5 L521.9 50.2 L524.4 52.0 L526.9 53.7 L529.4 55.4 L531.9 57.2 L534.4 58.9 L536.9 60.7 L539.4 62.4 L541.9 64.1 L544.4 65.8 L547.0 67.4 L549.6 69.0 L552.2 70.6 L554.9 72.1 L557.5 73.6 L560.2 75.0 L562.9 76.4 L565.6 77.8 L568.3 79.2 L571.0 80.5 L573.8 81.8 L576.5 83.2 L579.3 84.5 L582.0 85.7 L584.8 86.9 L587.6 88.1 L590.5 89.2 L593.3 90.2 L596.2 91.2 L599.1 92.2 L602.0 93.0 L604.9 93.8 L607.9 94.5 L610.9 95.1 L613.8 95.7 L616.8 96.3 L619.8 96.9 L622.8 97.5 L625.8 98.0 L628.8 98.5 L631.8 98.9 L634.8 99.1 L637.8 99.3 L640.9 99.4 L643.9 99.5 L646.4 99.5 L648.2 99.6" fill="none" stroke="#ffffff" stroke-width="4" stroke-linecap="round" opacity="0.95" filter="url(#bl05)" /><path d="M487.7 38.2 L489.5 39.4 L491.9 40.9 L494.9 42.8 L497.9 44.6 L501.0 46.4 L504.0 48.3 L506.9 50.2 L509.9 52.2 L512.7 54.3 L515.6 56.4 L518.4 58.6 L521.2 60.7 L524.0 62.9 L526.7 65.1 L529.5 67.3 L532.3 69.5 L535.2 71.6 L538.1 73.6 L541.0 75.5 L544.1 77.3 L547.1 79.2 L550.1 81.0 L553.2 82.8 L556.2 84.6 L559.3 86.4 L562.3 88.2 L565.4 89.9 L568.5 91.6 L571.7 93.2 L574.8 94.8 L578.0 96.5 L581.1 98.1 L584.2 99.8 L587.3 101.5 L590.4 103.2 L593.5 104.9 L596.6 106.6 L599.8 108.2 L603.0 109.6 L606.3 110.9 L609.6 112.1 L613.0 113.3 L616.3 114.5 L619.7 115.7 L623.0 116.8 L626.4 117.9 L629.8 118.7 L633.2 119.4 L636.7 119.9 L640.2 120.3 L643.8 120.6 L647.3 120.9 L650.8 121.2 L654.4 121.5 L657.9 121.8 L661.4 122.1 L664.9 122.4 L667.8 122.6 L669.9 122.8" fill="none" stroke="#ffffff" stroke-width="4" stroke-linecap="round" opacity="0.95" filter="url(#bl05)" /><path d="M489.6 30.9 L491.2 31.7 L493.3 32.9 L496.0 34.4 L498.6 35.9 L501.3 37.4 L503.9 38.9 L506.6 40.4 L509.2 41.9 L511.8 43.5 L514.4 45.1 L516.9 46.8 L519.5 48.5 L521.9 50.2 L524.4 52.0 L526.9 53.7 L529.4 55.4 L531.9 57.2 L534.4 58.9 L536.9 60.7 L539.4 62.4 L541.9 64.1 L544.4 65.8 L547.0 67.4 L549.6 69.0 L552.2 70.6 L554.9 72.1 L557.5 73.6 L560.2 75.0 L562.9 76.4 L565.6 77.8 L568.3 79.2 L571.0 80.5 L573.8 81.8 L576.5 83.2 L579.3 84.5 L582.0 85.7 L584.8 86.9 L587.6 88.1 L590.5 89.2 L593.3 90.2 L596.2 91.2 L599.1 92.2 L602.0 93.0 L604.9 93.8 L607.9 94.5 L610.9 95.1 L613.8 95.7 L616.8 96.3 L619.8 96.9 L622.8 97.5 L625.8 98.0 L628.8 98.5 L631.8 98.9 L634.8 99.1 L637.8 99.3 L640.9 99.4 L643.9 99.5 L646.4 99.5 L648.2 99.6" fill="none" stroke="#f6a092" stroke-width="1.6" stroke-linecap="round" opacity="1" /><path d="M487.7 38.2 L489.5 39.4 L491.9 40.9 L494.9 42.8 L497.9 44.6 L501.0 46.4 L504.0 48.3 L506.9 50.2 L509.9 52.2 L512.7 54.3 L515.6 56.4 L518.4 58.6 L521.2 60.7 L524.0 62.9 L526.7 65.1 L529.5 67.3 L532.3 69.5 L535.2 71.6 L538.1 73.6 L541.0 75.5 L544.1 77.3 L547.1 79.2 L550.1 81.0 L553.2 82.8 L556.2 84.6 L559.3 86.4 L562.3 88.2 L565.4 89.9 L568.5 91.6 L571.7 93.2 L574.8 94.8 L578.0 96.5 L581.1 98.1 L584.2 99.8 L587.3 101.5 L590.4 103.2 L593.5 104.9 L596.6 106.6 L599.8 108.2 L603.0 109.6 L606.3 110.9 L609.6 112.1 L613.0 113.3 L616.3 114.5 L619.7 115.7 L623.0 116.8 L626.4 117.9 L629.8 118.7 L633.2 119.4 L636.7 119.9 L640.2 120.3 L643.8 120.6 L647.3 120.9 L650.8 121.2 L654.4 121.5 L657.9 121.8 L661.4 122.1 L664.9 122.4 L667.8 122.6 L669.9 122.8" fill="none" stroke="#f6a092" stroke-width="1.6" stroke-linecap="round" opacity="1" /><ellipse cx="491" cy="34" rx="4" ry="3" fill="#fff" filter="url(#bl1)"/></g>
<clipPath id="cpdl"><rect x="414" y="199" width="129" height="176"/></clipPath><g clip-path="url(#cpd)"><rect x="410" y="195" width="265" height="185" fill="#eef2fe"/><g id="dleft" clip-path="url(#cpdl)"><polygon points="410,199 492,199 483,220 474,245 478,265 486,285 470,298 440,300 410,300" fill="#fef2f2" filter="url(#bl3)" /><polygon points="413,268 440,235 462,210 476,199 450,199 430,225 413,250" fill="#fbd4d6" filter="url(#bl5)" /><polygon points="496,199 545,199 545,299 492,294.5 480,281 475,256 485,224" fill="#93acf3" filter="url(#bl05)" /><polygon points="528,199 545,199 545,214 535,208" fill="#6e8eee" filter="url(#bl2)" opacity="0.8"/><polygon points="485,226 476,256 481,280 492,292 502,288 498,262 492,240" fill="#c6d3f8" filter="url(#bl2)" opacity="0.9"/><polygon points="500,232 520,247 538,257 545,260 545,268 525,263 505,252 492,240" fill="#6f8fee" filter="url(#bl3)" opacity="0.6"/><ellipse cx="518" cy="258" rx="8" ry="4" transform="rotate(25 518 258)" fill="#3a64e6" filter="url(#bl2)" opacity="0.85"/><polygon points="505,272 545,270 545,297 500,294" fill="#aabff6" filter="url(#bl2)" opacity="0.8"/><polygon points="476,199 496,199 485,224 480,232" fill="#ffffff" filter="url(#bl2)" opacity="0.85"/><path d="M413.8 267.4 L414.7 266.7 L415.8 265.9 L417.1 264.9 L418.5 263.8 L419.9 262.8 L421.3 261.7 L422.6 260.7 L424.0 259.6 L425.4 258.6 L426.8 257.5 L428.2 256.5 L429.5 255.4 L430.9 254.4 L432.3 253.3 L433.7 252.2 L435.0 251.2 L436.4 250.1 L437.7 249.0 L439.1 248.0 L440.5 246.9 L441.8 245.8 L443.2 244.8 L444.5 243.7 L445.9 242.6 L447.3 241.5 L448.6 240.5 L450.0 239.4 L451.3 238.3 L452.6 237.2 L453.9 236.1 L455.2 234.9 L456.5 233.7 L457.8 232.5 L459.0 231.4 L460.3 230.2 L461.6 229.0 L462.8 227.8 L464.1 226.6 L465.4 225.5 L466.6 224.2 L467.7 222.9 L468.7 221.5 L469.6 220.1 L470.5 218.6 L471.3 217.1 L472.1 215.6 L473.0 214.0 L473.8 212.5 L474.7 211.0 L475.5 209.5 L476.3 208.0 L477.1 206.4 L477.8 204.9 L478.4 203.3 L479.0 201.6 L479.5 200.0 L480.0 198.3 L480.4 197.0 L480.7 196.0" fill="none" stroke="#f48c92" stroke-width="12" stroke-linecap="round" opacity="0.5" filter="url(#bl3)" /><path d="M413.4 267.7 L413.9 267.4 L414.4 266.9 L415.1 266.4 L415.9 265.9 L416.6 265.3 L417.3 264.8 L418.0 264.2 L418.7 263.7 L419.4 263.2 L420.2 262.6 L420.9 262.1 L421.6 261.6 L422.3 261.0 L423.0 260.5 L423.7 259.9 L424.5 259.4 L425.2 258.9 L425.9 258.3 L426.6 257.8 L427.3 257.3 L428.1 256.8 L428.8 256.2 L429.5 255.7 L430.2 255.2 L430.9 254.6 L431.7 254.1 L432.4 253.6 L433.1 253.0 L433.8 252.5 L434.6 252.0 L435.3 251.5 L436.0 250.9 L436.7 250.4 L437.4 249.9 L438.2 249.3 L438.9 248.8 L439.6 248.3 L440.3 247.7 L441.0 247.2 L441.7 246.6 L442.4 246.1 L443.1 245.5 L443.8 244.9 L444.5 244.4 L445.2 243.8 L445.9 243.3 L446.6 242.7 L447.3 242.2 L448.0 241.6 L448.7 241.0 L449.4 240.5 L450.1 239.9 L450.8 239.4 L451.5 238.8 L452.2 238.2 L452.9 237.7 L453.6 237.1 L454.2 236.7 L454.6 236.3" fill="none" stroke="#f05a62" stroke-width="6" stroke-linecap="round" opacity="0.55" filter="url(#bl2)" /><path d="M413.7 267.4 L414.5 266.9 L415.5 266.1 L416.7 265.2 L417.9 264.2 L419.2 263.3 L420.4 262.3 L421.7 261.4 L422.9 260.5 L424.1 259.5 L425.4 258.6 L426.6 257.6 L427.8 256.7 L429.1 255.8 L430.3 254.8 L431.5 253.9 L432.8 252.9 L434.0 252.0 L435.2 251.0 L436.5 250.1 L437.7 249.1 L438.9 248.1 L440.1 247.2 L441.3 246.2 L442.6 245.2 L443.8 244.3 L445.0 243.3 L446.2 242.4 L447.4 241.4 L448.7 240.4 L449.9 239.5 L451.1 238.5 L452.3 237.5 L453.5 236.5 L454.6 235.5 L455.8 234.4 L456.9 233.3 L458.1 232.3 L459.2 231.2 L460.3 230.2 L461.5 229.1 L462.6 228.0 L463.7 227.0 L464.9 225.9 L466.0 224.8 L467.0 223.7 L468.0 222.5 L468.9 221.3 L469.7 219.9 L470.5 218.6 L471.2 217.2 L472.0 215.9 L472.7 214.5 L473.5 213.2 L474.2 211.8 L475.0 210.4 L475.7 209.1 L476.5 207.7 L477.1 206.6 L477.5 205.8" fill="none" stroke="#f06a72" stroke-width="3" stroke-linecap="round" opacity="0.3" filter="url(#bl1)" /><path d="M445.6 200.0 L446.2 201.0 L447.0 202.3 L448.1 204.0 L449.1 205.7 L450.1 207.3 L451.1 209.0 L452.1 210.7 L453.1 212.3 L454.2 214.0 L455.2 215.7 L456.2 217.3 L457.2 219.0 L458.2 220.7 L459.2 222.4 L460.3 224.0 L461.3 225.7 L462.3 227.4 L463.3 229.0 L464.3 230.7 L465.3 232.4 L466.4 234.0 L467.4 235.7 L468.4 237.4 L469.4 239.0 L470.4 240.7 L471.4 242.4 L472.3 244.1 L473.3 245.8 L474.3 247.5 L475.3 249.2 L476.2 250.9 L477.2 252.6 L478.2 254.3 L479.1 256.0 L480.1 257.7 L481.1 259.4 L482.0 261.1 L483.0 262.8 L484.0 264.5 L484.9 266.2 L485.9 267.8 L486.9 269.5 L487.9 271.2 L488.8 273.0 L489.7 274.7 L490.5 276.5 L491.3 278.2 L492.0 280.0 L492.7 281.9 L493.5 283.7 L494.2 285.5 L494.9 287.3 L495.6 289.1 L496.4 290.9 L497.1 292.7 L497.8 294.6 L498.5 296.4 L499.1 297.8 L499.6 298.9" fill="none" stroke="#f4b0b4" stroke-width="1" stroke-linecap="round" opacity="0.5" /><path d="M466.6 195.6 L467.3 196.3 L468.1 197.1 L469.2 198.2 L470.2 199.4 L471.1 200.5 L472.1 201.7 L473.0 202.9 L473.9 204.1 L474.9 205.3 L475.8 206.5 L476.7 207.7 L477.6 208.9 L478.6 210.0 L479.6 211.2 L480.6 212.3 L481.7 213.4 L482.7 214.4 L483.9 215.4 L485.0 216.4 L486.1 217.5 L487.2 218.5 L488.3 219.5 L489.5 220.5 L490.6 221.5 L491.7 222.5 L492.9 223.4 L494.1 224.4 L495.3 225.3 L496.5 226.2 L497.7 227.2 L498.9 228.1 L500.1 229.0 L501.2 230.0 L502.4 230.9 L503.6 231.8 L504.8 232.7 L506.0 233.7 L507.2 234.6 L508.5 235.4 L509.7 236.3 L511.0 237.1 L512.3 237.9 L513.6 238.7 L514.9 239.5 L516.2 240.2 L517.5 241.0 L518.7 241.8 L520.0 242.6 L521.3 243.3 L522.7 244.1 L524.0 244.8 L525.4 245.4 L526.7 246.0 L528.1 246.7 L529.5 247.3 L530.9 247.9 L532.2 248.5 L533.3 249.0 L534.2 249.4" fill="none" stroke="#ffffff" stroke-width="3.6" stroke-linecap="round" opacity="0.95" filter="url(#bl05)" /><path d="M466.6 195.6 L467.3 196.3 L468.1 197.1 L469.2 198.2 L470.2 199.4 L471.1 200.5 L472.1 201.7 L473.0 202.9 L473.9 204.1 L474.9 205.3 L475.8 206.5 L476.7 207.7 L477.6 208.9 L478.6 210.0 L479.6 211.2 L480.6 212.3 L481.7 213.4 L482.7 214.4 L483.9 215.4 L485.0 216.4 L486.1 217.5 L487.2 218.5 L488.3 219.5 L489.5 220.5 L490.6 221.5 L491.7 222.5 L492.9 223.4 L494.1 224.4 L495.3 225.3 L496.5 226.2 L497.7 227.2 L498.9 228.1 L500.1 229.0 L501.2 230.0 L502.4 230.9 L503.6 231.8 L504.8 232.7 L506.0 233.7 L507.2 234.6 L508.5 235.4 L509.7 236.3 L511.0 237.1 L512.3 237.9 L513.6 238.7 L514.9 239.5 L516.2 240.2 L517.5 241.0 L518.7 241.8 L520.0 242.6 L521.3 243.3 L522.7 244.1 L524.0 244.8 L525.4 245.4 L526.7 246.0 L528.1 246.7 L529.5 247.3 L530.9 247.9 L532.2 248.5 L533.3 249.0 L534.2 249.4" fill="none" stroke="#f9c4bc" stroke-width="1.1" stroke-linecap="round" opacity="1" /><path d="M486.7 230.1 L487.4 230.4 L488.3 230.8 L489.4 231.4 L490.5 231.9 L491.6 232.5 L492.7 233.0 L493.8 233.6 L495.0 234.1 L496.1 234.7 L497.2 235.2 L498.3 235.8 L499.4 236.4 L500.5 236.9 L501.6 237.5 L502.7 238.1 L503.7 238.7 L504.8 239.5 L505.7 240.2 L506.7 241.0 L507.6 241.8 L508.6 242.6 L509.5 243.4 L510.5 244.2 L511.4 245.0 L512.4 245.8 L513.3 246.6 L514.3 247.4 L515.2 248.3 L516.2 249.1 L517.1 249.9 L518.0 250.7 L519.0 251.5 L519.9 252.3 L520.8 253.2 L521.8 254.0 L522.7 254.8 L523.7 255.6 L524.7 256.2 L525.8 256.8 L526.9 257.4 L528.0 257.8 L529.2 258.3 L530.3 258.7 L531.5 259.1 L532.7 259.5 L533.9 259.7 L535.1 259.9 L536.4 260.1 L537.6 260.2 L538.8 260.3 L540.1 260.4 L541.3 260.5 L542.5 260.6 L543.8 260.7 L545.0 260.7 L546.3 260.8 L547.5 260.8 L548.5 260.8 L549.3 260.8" fill="none" stroke="#ffffff" stroke-width="3.6" stroke-linecap="round" opacity="0.95" filter="url(#bl05)" /><path d="M486.7 230.1 L487.4 230.4 L488.3 230.8 L489.4 231.4 L490.5 231.9 L491.6 232.5 L492.7 233.0 L493.8 233.6 L495.0 234.1 L496.1 234.7 L497.2 235.2 L498.3 235.8 L499.4 236.4 L500.5 236.9 L501.6 237.5 L502.7 238.1 L503.7 238.7 L504.8 239.5 L505.7 240.2 L506.7 241.0 L507.6 241.8 L508.6 242.6 L509.5 243.4 L510.5 244.2 L511.4 245.0 L512.4 245.8 L513.3 246.6 L514.3 247.4 L515.2 248.3 L516.2 249.1 L517.1 249.9 L518.0 250.7 L519.0 251.5 L519.9 252.3 L520.8 253.2 L521.8 254.0 L522.7 254.8 L523.7 255.6 L524.7 256.2 L525.8 256.8 L526.9 257.4 L528.0 257.8 L529.2 258.3 L530.3 258.7 L531.5 259.1 L532.7 259.5 L533.9 259.7 L535.1 259.9 L536.4 260.1 L537.6 260.2 L538.8 260.3 L540.1 260.4 L541.3 260.5 L542.5 260.6 L543.8 260.7 L545.0 260.7 L546.3 260.8 L547.5 260.8 L548.5 260.8 L549.3 260.8" fill="none" stroke="#f9c4bc" stroke-width="1.1" stroke-linecap="round" opacity="1" /><path d="M548.9 266.0 L547.8 266.0 L546.4 266.0 L544.6 266.0 L542.7 266.1 L540.9 266.1 L539.1 266.2 L537.3 266.3 L535.5 266.4 L533.7 266.5 L531.9 266.6 L530.1 266.7 L528.2 266.8 L526.4 266.9 L524.6 267.1 L522.8 267.3 L521.1 267.7 L519.3 268.1 L517.6 268.6 L515.8 269.1 L514.1 269.6 L512.4 270.2 L510.7 270.8 L509.0 271.5 L507.4 272.3 L505.8 273.2 L504.2 274.1 L502.7 275.0 L501.1 275.9 L499.5 276.8 L497.9 277.7 L496.4 278.6 L494.8 279.5 L493.2 280.4 L491.7 281.4 L490.2 282.4 L488.7 283.4 L487.2 284.4 L485.7 285.4 L484.1 286.4 L482.6 287.4 L481.1 288.5 L479.6 289.5 L478.1 290.5 L476.6 291.5 L475.1 292.5 L473.6 293.5 L472.1 294.6 L470.7 295.6 L469.2 296.7 L467.8 297.8 L466.3 298.9 L464.9 300.1 L463.5 301.2 L462.1 302.3 L460.7 303.5 L459.3 304.6 L457.8 305.7 L456.7 306.6 L455.9 307.3" fill="none" stroke="#ffffff" stroke-width="3.8" stroke-linecap="round" opacity="0.95" filter="url(#bl05)" /><path d="M548.9 266.0 L547.8 266.0 L546.4 266.0 L544.6 266.0 L542.7 266.1 L540.9 266.1 L539.1 266.2 L537.3 266.3 L535.5 266.4 L533.7 266.5 L531.9 266.6 L530.1 266.7 L528.2 266.8 L526.4 266.9 L524.6 267.1 L522.8 267.3 L521.1 267.7 L519.3 268.1 L517.6 268.6 L515.8 269.1 L514.1 269.6 L512.4 270.2 L510.7 270.8 L509.0 271.5 L507.4 272.3 L505.8 273.2 L504.2 274.1 L502.7 275.0 L501.1 275.9 L499.5 276.8 L497.9 277.7 L496.4 278.6 L494.8 279.5 L493.2 280.4 L491.7 281.4 L490.2 282.4 L488.7 283.4 L487.2 284.4 L485.7 285.4 L484.1 286.4 L482.6 287.4 L481.1 288.5 L479.6 289.5 L478.1 290.5 L476.6 291.5 L475.1 292.5 L473.6 293.5 L472.1 294.6 L470.7 295.6 L469.2 296.7 L467.8 297.8 L466.3 298.9 L464.9 300.1 L463.5 301.2 L462.1 302.3 L460.7 303.5 L459.3 304.6 L457.8 305.7 L456.7 306.6 L455.9 307.3" fill="none" stroke="#f7b8b0" stroke-width="1.3" stroke-linecap="round" opacity="1" /><path d="M534.0 276.2 L533.5 276.3 L533.0 276.6 L532.2 276.9 L531.5 277.1 L530.8 277.4 L530.1 277.7 L529.4 278.0 L528.7 278.3 L527.9 278.6 L527.2 278.8 L526.5 279.1 L525.8 279.4 L525.1 279.7 L524.4 280.0 L523.6 280.3 L522.9 280.5 L522.2 280.8 L521.5 281.1 L520.8 281.4 L520.0 281.7 L519.3 282.0 L518.6 282.2 L517.9 282.5 L517.2 282.8 L516.5 283.1 L515.7 283.4 L515.0 283.7 L514.3 283.9 L513.6 284.2 L512.9 284.5 L512.2 284.8 L511.4 285.1 L510.7 285.4 L510.0 285.6 L509.3 285.9 L508.6 286.2 L507.9 286.5 L507.2 286.9 L506.5 287.2 L505.8 287.5 L505.0 287.8 L504.3 288.1 L503.6 288.4 L502.9 288.7 L502.2 289.0 L501.5 289.3 L500.8 289.6 L500.1 289.9 L499.4 290.2 L498.7 290.5 L498.0 290.8 L497.3 291.2 L496.5 291.5 L495.8 291.8 L495.1 292.1 L494.4 292.4 L493.7 292.7 L493.1 292.9 L492.7 293.1" fill="none" stroke="#ffffff" stroke-width="3" stroke-linecap="round" opacity="0.85" filter="url(#bl05)" /><path d="M414.2 268.8 L415.5 269.5 L417.2 270.6 L419.2 271.9 L421.3 273.2 L423.4 274.4 L425.5 275.7 L427.6 277.0 L429.7 278.3 L431.8 279.6 L433.9 280.8 L436.1 281.9 L438.2 283.0 L440.5 284.1 L442.7 285.1 L444.9 286.2 L447.1 287.2 L449.3 288.2 L451.5 289.2 L453.8 290.2 L456.1 291.1 L458.4 291.9 L460.7 292.7 L463.0 293.5 L465.3 294.3 L467.6 295.1 L470.0 295.8 L472.3 296.4 L474.7 297.0 L477.1 297.5 L479.5 298.0 L481.9 298.5 L484.3 299.1 L486.7 299.6 L489.1 300.0 L491.5 300.5 L493.9 300.9 L496.3 301.2 L498.8 301.5 L501.2 301.9 L503.6 302.2 L506.0 302.5 L508.5 302.8 L510.9 303.2 L513.3 303.5 L515.8 303.8 L518.2 304.0 L520.6 304.2 L523.1 304.4 L525.5 304.4 L528.0 304.5 L530.4 304.6 L532.9 304.6 L535.3 304.7 L537.8 304.7 L540.2 304.8 L542.7 304.8 L545.1 304.9 L547.1 304.9 L548.5 305.0" fill="none" stroke="#ffffff" stroke-width="6.6" stroke-linecap="round" opacity="0.8" filter="url(#bl1)" /><path d="M414.2 268.8 L415.5 269.5 L417.2 270.6 L419.2 271.9 L421.3 273.2 L423.4 274.4 L425.5 275.7 L427.6 277.0 L429.7 278.3 L431.8 279.6 L433.9 280.8 L436.1 281.9 L438.2 283.0 L440.5 284.1 L442.7 285.1 L444.9 286.2 L447.1 287.2 L449.3 288.2 L451.5 289.2 L453.8 290.2 L456.1 291.1 L458.4 291.9 L460.7 292.7 L463.0 293.5 L465.3 294.3 L467.6 295.1 L470.0 295.8 L472.3 296.4 L474.7 297.0 L477.1 297.5 L479.5 298.0 L481.9 298.5 L484.3 299.1 L486.7 299.6 L489.1 300.0 L491.5 300.5 L493.9 300.9 L496.3 301.2 L498.8 301.5 L501.2 301.9 L503.6 302.2 L506.0 302.5 L508.5 302.8 L510.9 303.2 L513.3 303.5 L515.8 303.8 L518.2 304.0 L520.6 304.2 L523.1 304.4 L525.5 304.4 L528.0 304.5 L530.4 304.6 L532.9 304.6 L535.3 304.7 L537.8 304.7 L540.2 304.8 L542.7 304.8 L545.1 304.9 L547.1 304.9 L548.5 305.0" fill="none" stroke="#f47a80" stroke-width="10" stroke-linecap="round" opacity="0.45" filter="url(#bl2)" /><path d="M414.2 268.8 L415.5 269.5 L417.2 270.6 L419.2 271.9 L421.3 273.2 L423.4 274.4 L425.5 275.7 L427.6 277.0 L429.7 278.3 L431.8 279.6 L433.9 280.8 L436.1 281.9 L438.2 283.0 L440.5 284.1 L442.7 285.1 L444.9 286.2 L447.1 287.2 L449.3 288.2 L451.5 289.2 L453.8 290.2 L456.1 291.1 L458.4 291.9 L460.7 292.7 L463.0 293.5 L465.3 294.3 L467.6 295.1 L470.0 295.8 L472.3 296.4 L474.7 297.0 L477.1 297.5 L479.5 298.0 L481.9 298.5 L484.3 299.1 L486.7 299.6 L489.1 300.0 L491.5 300.5 L493.9 300.9 L496.3 301.2 L498.8 301.5 L501.2 301.9 L503.6 302.2 L506.0 302.5 L508.5 302.8 L510.9 303.2 L513.3 303.5 L515.8 303.8 L518.2 304.0 L520.6 304.2 L523.1 304.4 L525.5 304.4 L528.0 304.5 L530.4 304.6 L532.9 304.6 L535.3 304.7 L537.8 304.7 L540.2 304.8 L542.7 304.8 L545.1 304.9 L547.1 304.9 L548.5 305.0" fill="none" stroke="#f2434c" stroke-width="2.6" stroke-linecap="round" opacity="1" filter="url(#bl05)" /><path d="M414.2 337.2 L415.4 336.3 L417.0 335.2 L418.9 333.8 L420.9 332.4 L422.9 331.0 L424.9 329.6 L426.9 328.2 L429.0 327.0 L431.1 325.8 L433.2 324.8 L435.5 323.8 L437.7 322.9 L440.0 322.0 L442.2 321.1 L444.5 320.2 L446.7 319.4 L449.0 318.8 L451.4 318.3 L453.8 318.1 L456.2 318.0 L458.6 318.0 L461.0 318.0 L463.5 318.0 L465.9 318.0 L468.3 318.0 L470.7 318.0 L473.2 318.0 L475.6 318.0 L478.0 318.1 L480.4 318.3 L482.8 318.6 L485.2 319.0 L487.6 319.5 L489.9 320.0 L492.3 320.5 L494.7 320.9 L497.1 321.4 L499.5 321.9 L501.8 322.4 L504.2 322.8 L506.6 323.3 L509.0 323.7 L511.4 324.1 L513.8 324.4 L516.2 324.6 L518.6 324.9 L521.0 325.1 L523.4 325.3 L525.9 325.6 L528.3 325.8 L530.7 326.1 L533.1 326.3 L535.5 326.6 L537.9 326.8 L540.3 327.0 L542.8 327.3 L545.2 327.5 L547.1 327.7 L548.6 327.9" fill="none" stroke="#ffffff" stroke-width="7.6" stroke-linecap="round" opacity="0.8" filter="url(#bl1)" /><path d="M414.2 337.2 L415.4 336.3 L417.0 335.2 L418.9 333.8 L420.9 332.4 L422.9 331.0 L424.9 329.6 L426.9 328.2 L429.0 327.0 L431.1 325.8 L433.2 324.8 L435.5 323.8 L437.7 322.9 L440.0 322.0 L442.2 321.1 L444.5 320.2 L446.7 319.4 L449.0 318.8 L451.4 318.3 L453.8 318.1 L456.2 318.0 L458.6 318.0 L461.0 318.0 L463.5 318.0 L465.9 318.0 L468.3 318.0 L470.7 318.0 L473.2 318.0 L475.6 318.0 L478.0 318.1 L480.4 318.3 L482.8 318.6 L485.2 319.0 L487.6 319.5 L489.9 320.0 L492.3 320.5 L494.7 320.9 L497.1 321.4 L499.5 321.9 L501.8 322.4 L504.2 322.8 L506.6 323.3 L509.0 323.7 L511.4 324.1 L513.8 324.4 L516.2 324.6 L518.6 324.9 L521.0 325.1 L523.4 325.3 L525.9 325.6 L528.3 325.8 L530.7 326.1 L533.1 326.3 L535.5 326.6 L537.9 326.8 L540.3 327.0 L542.8 327.3 L545.2 327.5 L547.1 327.7 L548.6 327.9" fill="none" stroke="#f47a80" stroke-width="11" stroke-linecap="round" opacity="0.45" filter="url(#bl2)" /><path d="M414.2 337.2 L415.4 336.3 L417.0 335.2 L418.9 333.8 L420.9 332.4 L422.9 331.0 L424.9 329.6 L426.9 328.2 L429.0 327.0 L431.1 325.8 L433.2 324.8 L435.5 323.8 L437.7 322.9 L440.0 322.0 L442.2 321.1 L444.5 320.2 L446.7 319.4 L449.0 318.8 L451.4 318.3 L453.8 318.1 L456.2 318.0 L458.6 318.0 L461.0 318.0 L463.5 318.0 L465.9 318.0 L468.3 318.0 L470.7 318.0 L473.2 318.0 L475.6 318.0 L478.0 318.1 L480.4 318.3 L482.8 318.6 L485.2 319.0 L487.6 319.5 L489.9 320.0 L492.3 320.5 L494.7 320.9 L497.1 321.4 L499.5 321.9 L501.8 322.4 L504.2 322.8 L506.6 323.3 L509.0 323.7 L511.4 324.1 L513.8 324.4 L516.2 324.6 L518.6 324.9 L521.0 325.1 L523.4 325.3 L525.9 325.6 L528.3 325.8 L530.7 326.1 L533.1 326.3 L535.5 326.6 L537.9 326.8 L540.3 327.0 L542.8 327.3 L545.2 327.5 L547.1 327.7 L548.6 327.9" fill="none" stroke="#f2434c" stroke-width="3.6" stroke-linecap="round" opacity="1" filter="url(#bl05)" /><path d="M414.4 337.8 L415.8 337.6 L417.6 337.3 L419.9 336.9 L422.2 336.6 L424.5 336.2 L426.8 335.8 L429.1 335.5 L431.4 335.1 L433.7 334.8 L436.0 334.4 L438.3 334.0 L440.7 333.7 L443.0 333.4 L445.3 333.3 L447.6 333.3 L449.9 333.3 L452.2 333.5 L454.6 333.6 L456.9 333.8 L459.2 333.9 L461.5 334.1 L463.9 334.3 L466.2 334.4 L468.5 334.6 L470.9 334.7 L473.2 334.9 L475.5 335.1 L477.8 335.2 L480.2 335.4 L482.5 335.6 L484.8 335.8 L487.1 336.0 L489.5 336.2 L491.8 336.4 L494.1 336.6 L496.4 336.8 L498.7 337.0 L501.1 337.2 L503.4 337.4 L505.7 337.6 L508.0 337.8 L510.4 337.9 L512.7 337.9 L515.0 337.9 L517.4 337.8 L519.7 337.8 L522.0 337.7 L524.4 337.6 L526.7 337.6 L529.0 337.5 L531.3 337.5 L533.7 337.4 L536.0 337.3 L538.3 337.3 L540.7 337.2 L543.0 337.2 L545.3 337.1 L547.2 337.1 L548.6 337.0" fill="none" stroke="#ffffff" stroke-width="6.6" stroke-linecap="round" opacity="0.8" filter="url(#bl1)" /><path d="M414.4 337.8 L415.8 337.6 L417.6 337.3 L419.9 336.9 L422.2 336.6 L424.5 336.2 L426.8 335.8 L429.1 335.5 L431.4 335.1 L433.7 334.8 L436.0 334.4 L438.3 334.0 L440.7 333.7 L443.0 333.4 L445.3 333.3 L447.6 333.3 L449.9 333.3 L452.2 333.5 L454.6 333.6 L456.9 333.8 L459.2 333.9 L461.5 334.1 L463.9 334.3 L466.2 334.4 L468.5 334.6 L470.9 334.7 L473.2 334.9 L475.5 335.1 L477.8 335.2 L480.2 335.4 L482.5 335.6 L484.8 335.8 L487.1 336.0 L489.5 336.2 L491.8 336.4 L494.1 336.6 L496.4 336.8 L498.7 337.0 L501.1 337.2 L503.4 337.4 L505.7 337.6 L508.0 337.8 L510.4 337.9 L512.7 337.9 L515.0 337.9 L517.4 337.8 L519.7 337.8 L522.0 337.7 L524.4 337.6 L526.7 337.6 L529.0 337.5 L531.3 337.5 L533.7 337.4 L536.0 337.3 L538.3 337.3 L540.7 337.2 L543.0 337.2 L545.3 337.1 L547.2 337.1 L548.6 337.0" fill="none" stroke="#f47a80" stroke-width="8" stroke-linecap="round" opacity="0.35" filter="url(#bl2)" /><path d="M414.4 337.8 L415.8 337.6 L417.6 337.3 L419.9 336.9 L422.2 336.6 L424.5 336.2 L426.8 335.8 L429.1 335.5 L431.4 335.1 L433.7 334.8 L436.0 334.4 L438.3 334.0 L440.7 333.7 L443.0 333.4 L445.3 333.3 L447.6 333.3 L449.9 333.3 L452.2 333.5 L454.6 333.6 L456.9 333.8 L459.2 333.9 L461.5 334.1 L463.9 334.3 L466.2 334.4 L468.5 334.6 L470.9 334.7 L473.2 334.9 L475.5 335.1 L477.8 335.2 L480.2 335.4 L482.5 335.6 L484.8 335.8 L487.1 336.0 L489.5 336.2 L491.8 336.4 L494.1 336.6 L496.4 336.8 L498.7 337.0 L501.1 337.2 L503.4 337.4 L505.7 337.6 L508.0 337.8 L510.4 337.9 L512.7 337.9 L515.0 337.9 L517.4 337.8 L519.7 337.8 L522.0 337.7 L524.4 337.6 L526.7 337.6 L529.0 337.5 L531.3 337.5 L533.7 337.4 L536.0 337.3 L538.3 337.3 L540.7 337.2 L543.0 337.2 L545.3 337.1 L547.2 337.1 L548.6 337.0" fill="none" stroke="#f2434c" stroke-width="2.6" stroke-linecap="round" opacity="1" filter="url(#bl05)" /><path d="M413.4 338.3 L413.9 338.6 L414.5 339.0 L415.2 339.5 L416.0 340.0 L416.7 340.5 L417.5 341.0 L418.2 341.5 L419.0 342.0 L419.7 342.4 L420.5 342.9 L421.2 343.4 L422.0 343.9 L422.7 344.4 L423.4 344.9 L424.1 345.5 L424.8 346.1 L425.4 346.7 L426.0 347.4 L426.6 348.1 L427.1 348.8 L427.7 349.5 L428.3 350.2 L428.9 350.8 L429.4 351.5 L430.0 352.2 L430.6 352.9 L431.2 353.6 L431.7 354.3 L432.3 355.0 L432.9 355.7 L433.4 356.4 L434.0 357.1 L434.5 357.8 L435.0 358.6 L435.5 359.3 L435.9 360.1 L436.4 360.8 L436.9 361.6 L437.3 362.4 L437.8 363.1 L438.3 363.9 L438.8 364.6 L439.2 365.4 L439.7 366.2 L440.2 366.9 L440.7 367.7 L441.1 368.4 L441.6 369.2 L442.1 370.0 L442.6 370.7 L443.0 371.5 L443.4 372.3 L443.8 373.1 L444.2 373.9 L444.6 374.7 L444.9 375.5 L445.3 376.4 L445.6 377.0 L445.8 377.5" fill="none" stroke="#f47a80" stroke-width="6" stroke-linecap="round" opacity="0.3" filter="url(#bl2)" /><path d="M413.4 338.3 L413.9 338.6 L414.5 339.0 L415.2 339.5 L416.0 340.0 L416.7 340.5 L417.5 341.0 L418.2 341.5 L419.0 342.0 L419.7 342.4 L420.5 342.9 L421.2 343.4 L422.0 343.9 L422.7 344.4 L423.4 344.9 L424.1 345.5 L424.8 346.1 L425.4 346.7 L426.0 347.4 L426.6 348.1 L427.1 348.8 L427.7 349.5 L428.3 350.2 L428.9 350.8 L429.4 351.5 L430.0 352.2 L430.6 352.9 L431.2 353.6 L431.7 354.3 L432.3 355.0 L432.9 355.7 L433.4 356.4 L434.0 357.1 L434.5 357.8 L435.0 358.6 L435.5 359.3 L435.9 360.1 L436.4 360.8 L436.9 361.6 L437.3 362.4 L437.8 363.1 L438.3 363.9 L438.8 364.6 L439.2 365.4 L439.7 366.2 L440.2 366.9 L440.7 367.7 L441.1 368.4 L441.6 369.2 L442.1 370.0 L442.6 370.7 L443.0 371.5 L443.4 372.3 L443.8 373.1 L444.2 373.9 L444.6 374.7 L444.9 375.5 L445.3 376.4 L445.6 377.0 L445.8 377.5" fill="none" stroke="#f2434c" stroke-width="3.0" stroke-linecap="round" opacity="1" filter="url(#bl05)" /><ellipse cx="417" cy="338" rx="8" ry="6" fill="#f04650" filter="url(#bl3)" opacity="0.75"/><ellipse cx="417" cy="268" rx="9" ry="7" fill="#f04650" filter="url(#bl3)" opacity="0.85"/><polygon points="506,341 545,341 545,378 514,378" fill="#aabef5" filter="url(#bl1)" /><polygon points="413,283 440,283 430,300 413,302" fill="#dde5fc" filter="url(#bl2)" /><polygon points="413,348 425,352 440,378 413,378" fill="#dde5fc" filter="url(#bl2)" /></g><use href="#dleft" transform="translate(1086 0) scale(-1 1)"/></g><line x1="481.1" y1="261.3" x2="504.2" y2="241.5" stroke="#1a1a1a" stroke-width="2.2"/><polygon points="509.7,236.8 504.5,249.2 503.1,242.4 496.7,240.1" fill="#1a1a1a"/><line x1="482.2" y1="270.5" x2="512.3" y2="256.8" stroke="#1a1a1a" stroke-width="2.2"/><polygon points="518.9,253.8 510.5,264.2 511.0,257.4 505.5,253.3" fill="#1a1a1a"/><line x1="522.0" y1="294.0" x2="524.2" y2="277.6" stroke="#1a1a1a" stroke-width="2.2"/><polygon points="525.1,270.5 529.5,283.2 524.0,279.1 517.6,281.6" fill="#1a1a1a"/><line x1="611.4" y1="264.8" x2="582.0" y2="278.0" stroke="#1a1a1a" stroke-width="2.2"/><polygon points="575.4,280.9 583.9,270.5 583.3,277.4 588.8,281.5" fill="#1a1a1a"/><text x="467" y="276.8" font-size="22" font-weight="bold" font-style="italic" text-anchor="middle" fill="#1a1a1a">λ</text><text x="519.5" y="309" font-size="22" font-weight="bold" font-style="italic" text-anchor="middle" fill="#1a1a1a">μ</text><text x="620" y="269.6" font-size="22" font-weight="bold" font-style="italic" text-anchor="middle" fill="#1a1a1a">κ</text>
<defs><linearGradient id="fs0" x1="580.0" x2="680.0" y1="0" y2="0" gradientUnits="userSpaceOnUse"><stop offset="0" stop-color="#7c786c"/><stop offset="1" stop-color="#7c786c"/></linearGradient><linearGradient id="fs1" x1="580.0" x2="679.9" y1="0" y2="0" gradientUnits="userSpaceOnUse"><stop offset="0" stop-color="#7c786c"/><stop offset="1" stop-color="#7c786c"/></linearGradient><linearGradient id="fs2" x1="580.1" x2="679.6" y1="0" y2="0" gradientUnits="userSpaceOnUse"><stop offset="0" stop-color="#7a7a6a"/><stop offset="1" stop-color="#7e766a"/></linearGradient><linearGradient id="fs3" x1="580.1" x2="679.3" y1="0" y2="0" gradientUnits="userSpaceOnUse"><stop offset="0" stop-color="#787c69"/><stop offset="1" stop-color="#807569"/></linearGradient><linearGradient id="fs4" x1="580.1" x2="679.0" y1="0" y2="0" gradientUnits="userSpaceOnUse"><stop offset="0" stop-color="#777e67"/><stop offset="1" stop-color="#827367"/></linearGradient><linearGradient id="fs5" x1="580.2" x2="678.7" y1="0" y2="0" gradientUnits="userSpaceOnUse"><stop offset="0" stop-color="#758066"/><stop offset="1" stop-color="#837166"/></linearGradient><linearGradient id="fs6" x1="580.2" x2="678.4" y1="0" y2="0" gradientUnits="userSpaceOnUse"><stop offset="0" stop-color="#738165"/><stop offset="1" stop-color="#857065"/></linearGradient><linearGradient id="fs7" x1="580.3" x2="678.1" y1="0" y2="0" gradientUnits="userSpaceOnUse"><stop offset="0" stop-color="#728363"/><stop offset="1" stop-color="#876e63"/></linearGradient><linearGradient id="fs8" x1="580.3" x2="677.8" y1="0" y2="0" gradientUnits="userSpaceOnUse"><stop offset="0" stop-color="#708562"/><stop offset="1" stop-color="#896d62"/></linearGradient><linearGradient id="fs9" x1="580.4" x2="677.5" y1="0" y2="0" gradientUnits="userSpaceOnUse"><stop offset="0" stop-color="#6e8760"/><stop offset="1" stop-color="#8a6b60"/></linearGradient><linearGradient id="fs10" x1="580.4" x2="677.2" y1="0" y2="0" gradientUnits="userSpaceOnUse"><stop offset="0" stop-color="#6d885f"/><stop offset="1" stop-color="#8c695f"/></linearGradient><linearGradient id="fs11" x1="580.4" x2="676.9" y1="0" y2="0" gradientUnits="userSpaceOnUse"><stop offset="0" stop-color="#6b8a5d"/><stop offset="1" stop-color="#8e685d"/></linearGradient><linearGradient id="fs12" x1="580.5" x2="676.5" y1="0" y2="0" gradientUnits="userSpaceOnUse"><stop offset="0" stop-color="#6a8c5c"/><stop offset="1" stop-color="#90665c"/></linearGradient><linearGradient id="fs13" x1="580.5" x2="676.2" y1="0" y2="0" gradientUnits="userSpaceOnUse"><stop offset="0" stop-color="#688e5a"/><stop offset="1" stop-color="#91655a"/></linearGradient><linearGradient id="fs14" x1="580.6" x2="675.9" y1="0" y2="0" gradientUnits="userSpaceOnUse"><stop offset="0" stop-color="#669059"/><stop offset="1" stop-color="#936359"/></linearGradient><linearGradient id="fs15" x1="580.6" x2="675.6" y1="0" y2="0" gradientUnits="userSpaceOnUse"><stop offset="0" stop-color="#659258"/><stop offset="1" stop-color="#956158"/></linearGradient><linearGradient id="fs16" x1="580.6" x2="675.3" y1="0" y2="0" gradientUnits="userSpaceOnUse"><stop offset="0" stop-color="#639356"/><stop offset="1" stop-color="#976056"/></linearGradient><linearGradient id="fs17" x1="580.5" x2="674.8" y1="0" y2="0" gradientUnits="userSpaceOnUse"><stop offset="0" stop-color="#609654"/><stop offset="1" stop-color="#995d54"/></linearGradient><linearGradient id="fs18" x1="580.4" x2="674.3" y1="0" y2="0" gradientUnits="userSpaceOnUse"><stop offset="0" stop-color="#5e9852"/><stop offset="1" stop-color="#9c5b52"/></linearGradient><linearGradient id="fs19" x1="580.3" x2="673.8" y1="0" y2="0" gradientUnits="userSpaceOnUse"><stop offset="0" stop-color="#5c9b50"/><stop offset="1" stop-color="#9e5950"/></linearGradient><linearGradient id="fs20" x1="580.1" x2="673.4" y1="0" y2="0" gradientUnits="userSpaceOnUse"><stop offset="0" stop-color="#5a9e4e"/><stop offset="1" stop-color="#a0574e"/></linearGradient><linearGradient id="fs21" x1="580.0" x2="672.9" y1="0" y2="0" gradientUnits="userSpaceOnUse"><stop offset="0" stop-color="#57a04c"/><stop offset="1" stop-color="#a3544c"/></linearGradient><linearGradient id="fs22" x1="579.9" x2="672.4" y1="0" y2="0" gradientUnits="userSpaceOnUse"><stop offset="0" stop-color="#55a34a"/><stop offset="1" stop-color="#a5524a"/></linearGradient><linearGradient id="fs23" x1="579.8" x2="671.9" y1="0" y2="0" gradientUnits="userSpaceOnUse"><stop offset="0" stop-color="#53a548"/><stop offset="1" stop-color="#a85048"/></linearGradient><linearGradient id="fs24" x1="579.6" x2="671.5" y1="0" y2="0" gradientUnits="userSpaceOnUse"><stop offset="0" stop-color="#50a846"/><stop offset="1" stop-color="#aa4e46"/></linearGradient><linearGradient id="fs25" x1="579.5" x2="671.0" y1="0" y2="0" gradientUnits="userSpaceOnUse"><stop offset="0" stop-color="#4eaa44"/><stop offset="1" stop-color="#ad4b44"/></linearGradient><linearGradient id="fs26" x1="579.4" x2="670.5" y1="0" y2="0" gradientUnits="userSpaceOnUse"><stop offset="0" stop-color="#4cad42"/><stop offset="1" stop-color="#af4942"/></linearGradient><linearGradient id="fs27" x1="579.3" x2="670.0" y1="0" y2="0" gradientUnits="userSpaceOnUse"><stop offset="0" stop-color="#49af40"/><stop offset="1" stop-color="#b24740"/></linearGradient><linearGradient id="fs28" x1="579.1" x2="669.6" y1="0" y2="0" gradientUnits="userSpaceOnUse"><stop offset="0" stop-color="#47b23e"/><stop offset="1" stop-color="#b4453e"/></linearGradient><linearGradient id="fs29" x1="579.0" x2="669.1" y1="0" y2="0" gradientUnits="userSpaceOnUse"><stop offset="0" stop-color="#45b43c"/><stop offset="1" stop-color="#b7423c"/></linearGradient><linearGradient id="fs30" x1="579.4" x2="667.4" y1="0" y2="0" gradientUnits="userSpaceOnUse"><stop offset="0" stop-color="#42b73a"/><stop offset="1" stop-color="#b9403a"/></linearGradient><linearGradient id="fs31" x1="579.9" x2="665.5" y1="0" y2="0" gradientUnits="userSpaceOnUse"><stop offset="0" stop-color="#40ba37"/><stop offset="1" stop-color="#bc3e37"/></linearGradient><linearGradient id="fs32" x1="580.4" x2="663.6" y1="0" y2="0" gradientUnits="userSpaceOnUse"><stop offset="0" stop-color="#3dbc35"/><stop offset="1" stop-color="#be3b35"/></linearGradient><linearGradient id="fs33" x1="580.8" x2="661.6" y1="0" y2="0" gradientUnits="userSpaceOnUse"><stop offset="0" stop-color="#3bbf33"/><stop offset="1" stop-color="#c13933"/></linearGradient><linearGradient id="fs34" x1="581.3" x2="659.7" y1="0" y2="0" gradientUnits="userSpaceOnUse"><stop offset="0" stop-color="#38c231"/><stop offset="1" stop-color="#c33731"/></linearGradient><linearGradient id="fs35" x1="581.8" x2="657.8" y1="0" y2="0" gradientUnits="userSpaceOnUse"><stop offset="0" stop-color="#36c42f"/><stop offset="1" stop-color="#c6342f"/></linearGradient><linearGradient id="fs36" x1="582.3" x2="655.9" y1="0" y2="0" gradientUnits="userSpaceOnUse"><stop offset="0" stop-color="#33c72d"/><stop offset="1" stop-color="#c9322d"/></linearGradient><linearGradient id="fs37" x1="582.8" x2="654.0" y1="0" y2="0" gradientUnits="userSpaceOnUse"><stop offset="0" stop-color="#31ca2b"/><stop offset="1" stop-color="#cb2f2b"/></linearGradient><linearGradient id="fs38" x1="583.2" x2="652.0" y1="0" y2="0" gradientUnits="userSpaceOnUse"><stop offset="0" stop-color="#2fcc29"/><stop offset="1" stop-color="#ce2d29"/></linearGradient><linearGradient id="fs39" x1="583.7" x2="650.1" y1="0" y2="0" gradientUnits="userSpaceOnUse"><stop offset="0" stop-color="#2ccf26"/><stop offset="1" stop-color="#d02b26"/></linearGradient><linearGradient id="fs40" x1="584.2" x2="648.2" y1="0" y2="0" gradientUnits="userSpaceOnUse"><stop offset="0" stop-color="#2ad224"/><stop offset="1" stop-color="#d32824"/></linearGradient><linearGradient id="fs41" x1="584.7" x2="646.3" y1="0" y2="0" gradientUnits="userSpaceOnUse"><stop offset="0" stop-color="#27d422"/><stop offset="1" stop-color="#d62622"/></linearGradient><linearGradient id="fs42" x1="585.2" x2="644.4" y1="0" y2="0" gradientUnits="userSpaceOnUse"><stop offset="0" stop-color="#25d720"/><stop offset="1" stop-color="#d82420"/></linearGradient><linearGradient id="fs43" x1="585.6" x2="642.4" y1="0" y2="0" gradientUnits="userSpaceOnUse"><stop offset="0" stop-color="#22da1e"/><stop offset="1" stop-color="#db211e"/></linearGradient><linearGradient id="fs44" x1="586.1" x2="640.5" y1="0" y2="0" gradientUnits="userSpaceOnUse"><stop offset="0" stop-color="#20dc1c"/><stop offset="1" stop-color="#dd1f1c"/></linearGradient><linearGradient id="fs45" x1="586.6" x2="638.6" y1="0" y2="0" gradientUnits="userSpaceOnUse"><stop offset="0" stop-color="#1ddf1a"/><stop offset="1" stop-color="#e01c1a"/></linearGradient><linearGradient id="fs46" x1="587.1" x2="636.6" y1="0" y2="0" gradientUnits="userSpaceOnUse"><stop offset="0" stop-color="#1be217"/><stop offset="1" stop-color="#e31a17"/></linearGradient><linearGradient id="fs47" x1="587.6" x2="634.3" y1="0" y2="0" gradientUnits="userSpaceOnUse"><stop offset="0" stop-color="#19e416"/><stop offset="1" stop-color="#e51816"/></linearGradient><linearGradient id="fs48" x1="588.1" x2="632.0" y1="0" y2="0" gradientUnits="userSpaceOnUse"><stop offset="0" stop-color="#17e614"/><stop offset="1" stop-color="#e71614"/></linearGradient><linearGradient id="fs49" x1="588.7" x2="629.6" y1="0" y2="0" gradientUnits="userSpaceOnUse"><stop offset="0" stop-color="#15e912"/><stop offset="1" stop-color="#e91412"/></linearGradient><linearGradient id="fs50" x1="589.2" x2="627.3" y1="0" y2="0" gradientUnits="userSpaceOnUse"><stop offset="0" stop-color="#12eb10"/><stop offset="1" stop-color="#eb1210"/></linearGradient><linearGradient id="fs51" x1="589.7" x2="625.0" y1="0" y2="0" gradientUnits="userSpaceOnUse"><stop offset="0" stop-color="#10ed0e"/><stop offset="1" stop-color="#ee100e"/></linearGradient><linearGradient id="fs52" x1="590.2" x2="622.7" y1="0" y2="0" gradientUnits="userSpaceOnUse"><stop offset="0" stop-color="#0eef0c"/><stop offset="1" stop-color="#f00e0c"/></linearGradient><linearGradient id="fs53" x1="590.8" x2="620.3" y1="0" y2="0" gradientUnits="userSpaceOnUse"><stop offset="0" stop-color="#0cf20b"/><stop offset="1" stop-color="#f20c0b"/></linearGradient><linearGradient id="fs54" x1="591.3" x2="618.0" y1="0" y2="0" gradientUnits="userSpaceOnUse"><stop offset="0" stop-color="#0af409"/><stop offset="1" stop-color="#f40a09"/></linearGradient><linearGradient id="fs55" x1="591.8" x2="615.7" y1="0" y2="0" gradientUnits="userSpaceOnUse"><stop offset="0" stop-color="#08f607"/><stop offset="1" stop-color="#f70807"/></linearGradient><linearGradient id="fs56" x1="592.3" x2="613.4" y1="0" y2="0" gradientUnits="userSpaceOnUse"><stop offset="0" stop-color="#06f805"/><stop offset="1" stop-color="#f90605"/></linearGradient><linearGradient id="fs57" x1="592.9" x2="611.0" y1="0" y2="0" gradientUnits="userSpaceOnUse"><stop offset="0" stop-color="#05fa04"/><stop offset="1" stop-color="#fa0504"/></linearGradient><linearGradient id="fs58" x1="593.4" x2="608.7" y1="0" y2="0" gradientUnits="userSpaceOnUse"><stop offset="0" stop-color="#04fb03"/><stop offset="1" stop-color="#fb0403"/></linearGradient><linearGradient id="fs59" x1="593.9" x2="606.4" y1="0" y2="0" gradientUnits="userSpaceOnUse"><stop offset="0" stop-color="#03fc02"/><stop offset="1" stop-color="#fc0302"/></linearGradient><linearGradient id="fs60" x1="594.0" x2="604.5" y1="0" y2="0" gradientUnits="userSpaceOnUse"><stop offset="0" stop-color="#02fd01"/><stop offset="1" stop-color="#fd0201"/></linearGradient><linearGradient id="fs61" x1="594.0" x2="602.7" y1="0" y2="0" gradientUnits="userSpaceOnUse"><stop offset="0" stop-color="#01fe00"/><stop offset="1" stop-color="#fe0100"/></linearGradient><linearGradient id="fs62" x1="594.0" x2="600.9" y1="0" y2="0" gradientUnits="userSpaceOnUse"><stop offset="0" stop-color="#00ff00"/><stop offset="1" stop-color="#ff0000"/></linearGradient><linearGradient id="fs63" x1="594.0" x2="600.0" y1="0" y2="0" gradientUnits="userSpaceOnUse"><stop offset="0" stop-color="#00ff00"/><stop offset="1" stop-color="#ff0000"/></linearGradient><linearGradient id="fs64" x1="594.0" x2="600.0" y1="0" y2="0" gradientUnits="userSpaceOnUse"><stop offset="0" stop-color="#00ff00"/><stop offset="1" stop-color="#ff0000"/></linearGradient>
<linearGradient id="gAFM2" x1="0" y1="643" x2="0" y2="703" gradientUnits="userSpaceOnUse">
<stop offset="0" stop-color="#9a9400"/><stop offset="0.15" stop-color="#979600"/><stop offset="0.45" stop-color="#6ab45a"/><stop offset="0.75" stop-color="#30dcc0"/><stop offset="1" stop-color="#00ffff"/></linearGradient>
</defs><g clip-path="url(#cpf)"><polygon points="411.5,457.8 440.8,457.8 458.6,455.8 530,453.4 547,455.4 566.9,458.2 586.7,465.8 606.6,471.7 625.4,482.6 627.3,490 630.4,498.7 637,511.5 637.5,512.7 650.6,703 411.5,703" fill="#ffffb6"/><clipPath id="cpgr"><polygon points="630.4,512.7 637.5,512.7 643.1,525.3 644.7,536 647.2,560 648.3,568 649.2,600 650.6,703 536,703 541,667.3 546.2,647"/></clipPath><g clip-path="url(#cpgr)"><rect x="530" y="511" width="125" height="3.6" fill="url(#fs0)"/><rect x="530" y="514" width="125" height="3.6" fill="url(#fs1)"/><rect x="530" y="517" width="125" height="3.6" fill="url(#fs2)"/><rect x="530" y="520" width="125" height="3.6" fill="url(#fs3)"/><rect x="530" y="523" width="125" height="3.6" fill="url(#fs4)"/><rect x="530" y="526" width="125" height="3.6" fill="url(#fs5)"/><rect x="530" y="529" width="125" height="3.6" fill="url(#fs6)"/><rect x="530" y="532" width="125" height="3.6" fill="url(#fs7)"/><rect x="530" y="535" width="125" height="3.6" fill="url(#fs8)"/><rect x="530" y="538" width="125" height="3.6" fill="url(#fs9)"/><rect x="530" y="541" width="125" height="3.6" fill="url(#fs10)"/><rect x="530" y="544" width="125" height="3.6" fill="url(#fs11)"/><rect x="530" y="547" width="125" height="3.6" fill="url(#fs12)"/><rect x="530" y="550" width="125" height="3.6" fill="url(#fs13)"/><rect x="530" y="553" width="125" height="3.6" fill="url(#fs14)"/><rect x="530" y="556" width="125" height="3.6" fill="url(#fs15)"/><rect x="530" y="559" width="125" height="3.6" fill="url(#fs16)"/><rect x="530" y="562" width="125" height="3.6" fill="url(#fs17)"/><rect x="530" y="565" width="125" height="3.6" fill="url(#fs18)"/><rect x="530" y="568" width="125" height="3.6" fill="url(#fs19)"/><rect x="530" y="571" width="125" height="3.6" fill="url(#fs20)"/><rect x="530" y="574" width="125" height="3.6" fill="url(#fs21)"/><rect x="530" y="577" width="125" height="3.6" fill="url(#fs22)"/><rect x="530" y="580" width="125" height="3.6" fill="url(#fs23)"/><rect x="530" y="583" width="125" height="3.6" fill="url(#fs24)"/><rect x="530" y="586" width="125" height="3.6" fill="url(#fs25)"/><rect x="530" y="589" width="125" height="3.6" fill="url(#fs26)"/><rect x="530" y="592" width="125" height="3.6" fill="url(#fs27)"/><rect x="530" y="595" width="125" height="3.6" fill="url(#fs28)"/><rect x="530" y="598" width="125" height="3.6" fill="url(#fs29)"/><rect x="530" y="601" width="125" height="3.6" fill="url(#fs30)"/><rect x="530" y="604" width="125" height="3.6" fill="url(#fs31)"/><rect x="530" y="607" width="125" height="3.6" fill="url(#fs32)"/><rect x="530" y="610" width="125" height="3.6" fill="url(#fs33)"/><rect x="530" y="613" width="125" height="3.6" fill="url(#fs34)"/><rect x="530" y="616" width="125" height="3.6" fill="url(#fs35)"/><rect x="530" y="619" width="125" height="3.6" fill="url(#fs36)"/><rect x="530" y="622" width="125" height="3.6" fill="url(#fs37)"/><rect x="530" y="625" width="125" height="3.6" fill="url(#fs38)"/><rect x="530" y="628" width="125" height="3.6" fill="url(#fs39)"/><rect x="530" y="631" width="125" height="3.6" fill="url(#fs40)"/><rect x="530" y="634" width="125" height="3.6" fill="url(#fs41)"/><rect x="530" y="637" width="125" height="3.6" fill="url(#fs42)"/><rect x="530" y="640" width="125" height="3.6" fill="url(#fs43)"/><rect x="530" y="643" width="125" height="3.6" fill="url(#fs44)"/><rect x="530" y="646" width="125" height="3.6" fill="url(#fs45)"/><rect x="530" y="649" width="125" height="3.6" fill="url(#fs46)"/><rect x="530" y="652" width="125" height="3.6" fill="url(#fs47)"/><rect x="530" y="655" width="125" height="3.6" fill="url(#fs48)"/><rect x="530" y="658" width="125" height="3.6" fill="url(#fs49)"/><rect x="530" y="661" width="125" height="3.6" fill="url(#fs50)"/><rect x="530" y="664" width="125" height="3.6" fill="url(#fs51)"/><rect x="530" y="667" width="125" height="3.6" fill="url(#fs52)"/><rect x="530" y="670" width="125" height="3.6" fill="url(#fs53)"/><rect x="530" y="673" width="125" height="3.6" fill="url(#fs54)"/><rect x="530" y="676" width="125" height="3.6" fill="url(#fs55)"/><rect x="530" y="679" width="125" height="3.6" fill="url(#fs56)"/><rect x="530" y="682" width="125" height="3.6" fill="url(#fs57)"/><rect x="530" y="685" width="125" height="3.6" fill="url(#fs58)"/><rect x="530" y="688" width="125" height="3.6" fill="url(#fs59)"/><rect x="530" y="691" width="125" height="3.6" fill="url(#fs60)"/><rect x="530" y="694" width="125" height="3.6" fill="url(#fs61)"/><rect x="530" y="697" width="125" height="3.6" fill="url(#fs62)"/><rect x="530" y="700" width="125" height="3.6" fill="url(#fs63)"/><rect x="530" y="703" width="125" height="3.6" fill="url(#fs64)"/></g><polygon points="631.1,512.1 616.3,524.3 601.5,536.4 590.7,548.6 581.2,564.7 570.5,583.6 559.7,602.5 550.2,618.7 540.8,633.5 530.1,632.5 482.5,633.5 458.6,636.1 440.8,642.8 411.5,642.8 411.5,703 536,703 541,667.3 546.2,647 555.6,637.6 557,632.2 570.5,621.4 583.9,607.9 594.7,595.8 604.2,580.9 610.9,567.4 617.6,551.3 624.4,529.7 631.1,512.1" fill="#9a9400"/><polygon points="411.5,642.8 440.8,642.8 458.6,636.1 482.5,633.5 530.1,632.5 540.8,633.5 546.2,647 541,667.3 536,703 411.5,703" fill="url(#gAFM2)"/><polyline points="411.5,457.8 440.8,457.8 458.6,455.8 530,453.4 547,455.4 566.9,458.2 586.7,465.8 606.6,471.7 625.4,482.6 627.3,490 630.4,498.7 637,511.5 637.5,512.7 643.1,525.3 644.7,536 647.2,560 648.3,568 649.2,600 650.6,703" stroke="#1a1a1a" stroke-width="1.6" fill="none" stroke-linejoin="round"/><polyline points="631.1,512.1 616.3,524.3 601.5,536.4 590.7,548.6 581.2,564.7 570.5,583.6 559.7,602.5 550.2,618.7 540.8,633.5 530.1,632.5 482.5,633.5 458.6,636.1 440.8,642.8 411.5,642.8" stroke="#1a1a1a" stroke-width="1.6" fill="none" stroke-linejoin="round"/><polyline points="637,512.5 631.1,512.1"  stroke="#1a1a1a" stroke-width="1.6" fill="none" stroke-linejoin="round"/><polyline points="631.1,512.1 624.4,529.7 617.6,551.3 610.9,567.4 604.2,580.9 594.7,595.8 583.9,607.9 570.5,621.4 557,632.2 555.6,637.6 546.2,647 541,667.3 536,703" stroke="#1a1a1a" stroke-width="1.6" fill="none" stroke-linejoin="round"/><polyline points="608.2,540.5 601.5,549.9 588,575.5 577.2,597.1 569.9,620 571.8,618.7 581.2,597.1 593.4,572.8 605.5,551.3 615.8,540.5" stroke="#111" stroke-width="2" fill="none" stroke-linejoin="round"/></g><text x="439" y="558.6" font-size="17.8" font-weight="bold">Ferrimagnetic</text><text x="472.8" y="696" font-size="18" font-weight="bold" text-anchor="middle">AFM2</text><text x="566.5" y="678" font-size="17.5" font-weight="bold" text-anchor="middle">AFM</text><text x="566.5" y="699.3" font-size="17.5" font-weight="bold" text-anchor="middle">1B</text><text x="625" y="678" font-size="17.5" font-weight="bold" text-anchor="middle">AFM</text><text x="625" y="699.3" font-size="17.5" font-weight="bold" text-anchor="middle">1A</text>
<rect x="71.4" y="1.3" width="269.9" height="174.5" fill="none" stroke="#262626" stroke-width="1.4"/>
<rect x="71.5" y="198.5" width="270" height="174.5" fill="none" stroke="#262626" stroke-width="1.3"/>
<path d="M415.5 175V0.6H671.3V175" fill="none" stroke="#333" stroke-width="1.2"/>
<path d="M415.5 374V199.6H671.3V374" fill="none" stroke="#333" stroke-width="1.2"/>
<line x1="543.4" y1="199.6" x2="543.4" y2="374" stroke="#2a2a2a" stroke-width="3.4" />
<line x1="543.4" y1="199.6" x2="543.4" y2="374" stroke="#c4c4c4" stroke-width="1.2" />
<rect x="71.5" y="432" width="271.5" height="271" fill="none" stroke="#000" stroke-width="2"/>
<rect x="411.5" y="432.5" width="271" height="270.5" fill="none" stroke="#111" stroke-width="1.6"/>
<line x1="62.7" y1="21" x2="71" y2="21" stroke="#4a4a4a" stroke-width="1.8" />
<line x1="62.7" y1="66" x2="71" y2="66" stroke="#4a4a4a" stroke-width="1.8" />
<line x1="62.7" y1="111.1" x2="71" y2="111.1" stroke="#4a4a4a" stroke-width="1.8" />
<line x1="62.7" y1="156.2" x2="71" y2="156.2" stroke="#4a4a4a" stroke-width="1.8" />
<line x1="62.7" y1="217.9" x2="71" y2="217.9" stroke="#4a4a4a" stroke-width="1.8" />
<line x1="62.7" y1="263.2" x2="71" y2="263.2" stroke="#4a4a4a" stroke-width="1.8" />
<line x1="62.7" y1="308.8" x2="71" y2="308.8" stroke="#4a4a4a" stroke-width="1.8" />
<line x1="62.7" y1="353.9" x2="71" y2="353.9" stroke="#4a4a4a" stroke-width="1.8" />
<line x1="72" y1="176.5" x2="72" y2="184.8" stroke="#4a4a4a" stroke-width="1.8" />
<line x1="72" y1="373.5" x2="72" y2="381.5" stroke="#4a4a4a" stroke-width="1.8" />
<line x1="149.6" y1="176.5" x2="149.6" y2="184.8" stroke="#4a4a4a" stroke-width="1.8" />
<line x1="149.6" y1="373.5" x2="149.6" y2="381.5" stroke="#4a4a4a" stroke-width="1.8" />
<line x1="226.6" y1="176.5" x2="226.6" y2="184.8" stroke="#4a4a4a" stroke-width="1.8" />
<line x1="226.6" y1="373.5" x2="226.6" y2="381.5" stroke="#4a4a4a" stroke-width="1.8" />
<line x1="303.2" y1="176.5" x2="303.2" y2="184.8" stroke="#4a4a4a" stroke-width="1.8" />
<line x1="303.2" y1="373.5" x2="303.2" y2="381.5" stroke="#4a4a4a" stroke-width="1.8" />
<text x="56" y="28" font-size="20" text-anchor="end" font-weight="normal" fill="#000" >0.0</text>
<text x="56" y="119" font-size="20" text-anchor="end" font-weight="normal" fill="#000" >0.1</text>
<text x="56" y="224.7" font-size="20" text-anchor="end" font-weight="normal" fill="#000" >0.0</text>
<text x="56" y="315.8" font-size="20" text-anchor="end" font-weight="normal" fill="#000" >0.1</text>
<text x="71" y="403" font-size="20" text-anchor="middle" font-weight="normal" fill="#000" >0.0</text>
<text x="149.6" y="403" font-size="20" text-anchor="middle" font-weight="normal" fill="#000" >0.1</text>
<text x="226.6" y="403" font-size="20" text-anchor="middle" font-weight="normal" fill="#000" >0.2</text>
<text x="303.2" y="403" font-size="20" text-anchor="middle" font-weight="normal" fill="#000" >0.3</text>
<text x="212.5" y="420.5" font-size="19" text-anchor="middle" font-weight="normal" fill="#000" >Momentum (π/a)</text>
<text x="0" y="0" font-size="21.5" text-anchor="middle" font-weight="normal" fill="#000" transform="translate(17 187.5) rotate(-90)">Binding energy (eV)</text>
<line x1="415.5" y1="34.3" x2="427.5" y2="34.3" stroke="#222" stroke-width="1.2" />
<line x1="659" y1="34.3" x2="671.3" y2="34.3" stroke="#222" stroke-width="1.2" />
<line x1="415.5" y1="69.3" x2="427.5" y2="69.3" stroke="#222" stroke-width="1.2" />
<line x1="659" y1="69.3" x2="671.3" y2="69.3" stroke="#222" stroke-width="1.2" />
<line x1="415.5" y1="104" x2="427.5" y2="104" stroke="#222" stroke-width="1.2" />
<line x1="659" y1="104" x2="671.3" y2="104" stroke="#222" stroke-width="1.2" />
<line x1="415.5" y1="138.5" x2="427.5" y2="138.5" stroke="#222" stroke-width="1.2" />
<line x1="659" y1="138.5" x2="671.3" y2="138.5" stroke="#222" stroke-width="1.2" />
<line x1="415.5" y1="172.7" x2="427.5" y2="172.7" stroke="#222" stroke-width="1.2" />
<line x1="659" y1="172.7" x2="671.3" y2="172.7" stroke="#222" stroke-width="1.2" />
<line x1="415.5" y1="233.8" x2="427.5" y2="233.8" stroke="#222" stroke-width="1.2" />
<line x1="659" y1="233.8" x2="671.3" y2="233.8" stroke="#222" stroke-width="1.2" />
<line x1="536.2" y1="233.8" x2="550.6" y2="233.8" stroke="#222" stroke-width="1.4" />
<line x1="415.5" y1="268" x2="427.5" y2="268" stroke="#222" stroke-width="1.2" />
<line x1="659" y1="268" x2="671.3" y2="268" stroke="#222" stroke-width="1.2" />
<line x1="536.2" y1="268" x2="550.6" y2="268" stroke="#222" stroke-width="1.4" />
<line x1="415.5" y1="303.3" x2="427.5" y2="303.3" stroke="#222" stroke-width="1.2" />
<line x1="659" y1="303.3" x2="671.3" y2="303.3" stroke="#222" stroke-width="1.2" />
<line x1="536.2" y1="303.3" x2="550.6" y2="303.3" stroke="#222" stroke-width="1.4" />
<line x1="415.5" y1="338.6" x2="427.5" y2="338.6" stroke="#222" stroke-width="1.2" />
<line x1="659" y1="338.6" x2="671.3" y2="338.6" stroke="#222" stroke-width="1.2" />
<line x1="536.2" y1="338.6" x2="550.6" y2="338.6" stroke="#222" stroke-width="1.4" />
<line x1="415.5" y1="175" x2="415.5" y2="183.3" stroke="#333" stroke-width="1.2" />
<line x1="415.5" y1="374" x2="415.5" y2="382.3" stroke="#333" stroke-width="1.2" />
<line x1="543" y1="175" x2="543" y2="183.3" stroke="#333" stroke-width="1.2" />
<line x1="543" y1="374" x2="543" y2="382.3" stroke="#333" stroke-width="1.2" />
<line x1="671.3" y1="175" x2="671.3" y2="183.3" stroke="#333" stroke-width="1.2" />
<line x1="671.3" y1="374" x2="671.3" y2="382.3" stroke="#333" stroke-width="1.2" />
<text x="410" y="78.8" font-size="20" text-anchor="end" font-weight="normal" fill="#000" >0.0</text>
<text x="410" y="178.7" font-size="20" text-anchor="end" font-weight="normal" fill="#000" >0.3</text>
<text x="410" y="271" font-size="20" text-anchor="end" font-weight="normal" fill="#000" >0.0</text>
<text x="410" y="375" font-size="20" text-anchor="end" font-weight="normal" fill="#000" >0.3</text>
<text x="423" y="403" font-size="20" text-anchor="middle" font-weight="normal" fill="#000" >0.0</text>
<text x="543" y="403" font-size="20" text-anchor="middle" font-weight="normal" fill="#000" >0.25</text>
<text x="658" y="403" font-size="20" text-anchor="start" font-weight="normal" fill="#000" >0.5</text>
<text x="553" y="420.5" font-size="19" text-anchor="middle" font-weight="normal" fill="#000" >Momentum (π/a)</text>
<text x="0" y="0" font-size="21.5" text-anchor="middle" font-weight="normal" fill="#000" transform="translate(373 187.5) rotate(-90)">Binding energy (eV)</text>
<text x="322" y="35.5" font-size="32" text-anchor="middle" font-weight="bold" fill="#fff" >a</text>
<text x="322" y="232" font-size="32" text-anchor="middle" font-weight="bold" fill="#fff" >b</text>
<text x="645" y="34.5" font-size="32" text-anchor="middle" font-weight="bold" fill="#000" >c</text>
<text x="645" y="231.5" font-size="32" text-anchor="middle" font-weight="bold" fill="#000" >d</text>
<text x="670" y="460.8" font-size="32" text-anchor="middle" font-weight="bold" fill="#000" >f</text>
<text x="80" y="168" font-size="21.5" text-anchor="start" font-weight="bold" fill="#000" >AFM1B</text>
<text x="77.5" y="364.8" font-size="21.5" text-anchor="start" font-weight="bold" fill="#000" >AFM2</text>
<text x="467" y="169" font-size="21.5" text-anchor="start" font-weight="bold" fill="#000" >AFM1</text>
<text x="465" y="367" font-size="21.5" text-anchor="start" font-weight="bold" fill="#000" >AFM2</text>
<g clip-path="url(#cpe)"><path d="M87.5 442.5H113.1M87.5 439.7V445.3M113.1 439.7V445.3M100.4 462.0H126.0M100.4 459.2V464.8M126.0 459.2V464.8M113.7 481.0H139.5M113.7 478.2V483.8M139.5 478.2V483.8M131.6 473.7V494.5M128.79999999999998 473.7H134.4M128.79999999999998 494.5H134.4M145.0 491.0V512.4M142.2 491.0H147.8M142.2 512.4H147.8M158.6 510.0V531.0M155.79999999999998 510.0H161.4M155.79999999999998 531.0H161.4M172.2 525.0V545.8M169.39999999999998 525.0H175.0M169.39999999999998 545.8H175.0M185.8 538.6V559.0M183.0 538.6H188.60000000000002M183.0 559.0H188.60000000000002M199.3 553.9V574.7M196.5 553.9H202.10000000000002M196.5 574.7H202.10000000000002M212.6 567.4V588.0M209.79999999999998 567.4H215.4M209.79999999999998 588.0H215.4M226.1 579.7V600.6M223.29999999999998 579.7H228.9M223.29999999999998 600.6H228.9M239.0 594.0V615.0M236.2 594.0H241.8M236.2 615.0H241.8M252.6 604.0V624.4M249.79999999999998 604.0H255.4M249.79999999999998 624.4H255.4M265.8 615.4V636.9M263.0 615.4H268.6M263.0 636.9H268.6M278.3 626.4V647.2M275.5 626.4H281.1M275.5 647.2H281.1M290.9 653.6V674.3M288.09999999999997 653.6H293.7M288.09999999999997 674.3H293.7M304.1 656.7V677.4M301.3 656.7H306.90000000000003M301.3 677.4H306.90000000000003M317.4 661.6V682.3M314.59999999999997 661.6H320.2M314.59999999999997 682.3H320.2M330.4 671.3V692.0M327.59999999999997 671.3H333.2M327.59999999999997 692.0H333.2" stroke="#ff0000" stroke-width="1.2" fill="none" opacity="0.85"/><rect x="97.9" y="440.0" width="5" height="5" fill="#ff0000"/><rect x="110.6" y="459.5" width="5" height="5" fill="#ff0000"/><rect x="124.1" y="478.5" width="5" height="5" fill="#ff0000"/><rect x="129.1" y="481.5" width="5" height="5" fill="#ff0000"/><rect x="142.5" y="499.0" width="5" height="5" fill="#ff0000"/><rect x="156.1" y="518.0" width="5" height="5" fill="#ff0000"/><rect x="169.7" y="532.7" width="5" height="5" fill="#ff0000"/><rect x="183.3" y="546.5" width="5" height="5" fill="#ff0000"/><rect x="196.8" y="561.9" width="5" height="5" fill="#ff0000"/><rect x="210.1" y="575.2" width="5" height="5" fill="#ff0000"/><rect x="223.6" y="587.9" width="5" height="5" fill="#ff0000"/><rect x="236.5" y="602.0" width="5" height="5" fill="#ff0000"/><rect x="250.1" y="611.5" width="5" height="5" fill="#ff0000"/><rect x="263.3" y="623.8" width="5" height="5" fill="#ff0000"/><rect x="275.8" y="634.5" width="5" height="5" fill="#ff0000"/><rect x="288.4" y="661.1" width="5" height="5" fill="#ff0000"/><rect x="301.6" y="664.6" width="5" height="5" fill="#ff0000"/><rect x="314.9" y="669.2" width="5" height="5" fill="#ff0000"/><rect x="327.9" y="679.2" width="5" height="5" fill="#ff0000"/><path d="M98.0 439.7H134.1M98.0 436.9V442.5M134.1 436.9V442.5M118.0 459.0H154.0M118.0 456.2V461.8M154.0 456.2V461.8M130.0 478.5H165.9M130.0 475.7V481.3M165.9 475.7V481.3M138.5 497.5H174.2M138.5 494.7V500.3M174.2 494.7V500.3M145.8 517.0H181.4M145.8 514.2V519.8M181.4 514.2V519.8M80.9 567.3V608.6M78.10000000000001 567.3H83.7M78.10000000000001 608.6H83.7M95.5 560.4V602.3M92.7 560.4H98.3M92.7 602.3H98.3M110.1 557.5V599.1M107.3 557.5H112.89999999999999M107.3 599.1H112.89999999999999M168.0 547.4V568.2M165.2 547.4H170.8M165.2 568.2H170.8M165.3 558.2H201.0M165.3 555.4000000000001V561.0M201.0 555.4000000000001V561.0M182.2 554.9V574.7M179.39999999999998 554.9H185.0M179.39999999999998 574.7H185.0M196.1 562.8V583.3M193.29999999999998 562.8H198.9M193.29999999999998 583.3H198.9M188.8 577.3H224.5M188.8 574.5V580.0999999999999M224.5 574.5V580.0999999999999M209.6 573.8V593.6M206.79999999999998 573.8H212.4M206.79999999999998 593.6H212.4M223.1 584.7V605.5M220.29999999999998 584.7H225.9M220.29999999999998 605.5H225.9M207.6 597.0H243.4M207.6 594.2V599.8M243.4 594.2V599.8M236.4 597.6V617.8M233.6 597.6H239.20000000000002M233.6 617.8H239.20000000000002M227.0 616.0H263.3M227.0 613.2V618.8M263.3 613.2V618.8M249.6 609.5V630.0M246.79999999999998 609.5H252.4M246.79999999999998 630.0H252.4M244.6 634.0H280.6M244.6 631.2V636.8M280.6 631.2V636.8M262.6 622.0V642.7M259.8 622.0H265.40000000000003M259.8 642.7H265.40000000000003M275.6 635.6V655.5M272.8 635.6H278.40000000000003M272.8 655.5H278.40000000000003M264.8 654.9H301.3M264.8 652.1V657.6999999999999M301.3 652.1V657.6999999999999M288.4 648.7V669.0M285.59999999999997 648.7H291.2M285.59999999999997 669.0H291.2M301.3 659.0V679.7M298.5 659.0H304.1M298.5 679.7H304.1M313.9 671.3V692.3M311.09999999999997 671.3H316.7M311.09999999999997 692.3H316.7M326.6 683.5V705.0M323.8 683.5H329.40000000000003M323.8 705.0H329.40000000000003" stroke="#0044ff" stroke-width="1.2" fill="none" opacity="0.85"/><rect x="113.8" y="437.2" width="5" height="5" fill="#0044ff"/><rect x="133.6" y="456.5" width="5" height="5" fill="#0044ff"/><rect x="145.1" y="476.0" width="5" height="5" fill="#0044ff"/><rect x="153.9" y="495.0" width="5" height="5" fill="#0044ff"/><rect x="161.0" y="514.5" width="5" height="5" fill="#0044ff"/><rect x="78.4" y="585.4" width="5" height="5" fill="#0044ff"/><rect x="93.0" y="579.1" width="5" height="5" fill="#0044ff"/><rect x="107.6" y="575.9" width="5" height="5" fill="#0044ff"/><rect x="165.5" y="555.4" width="5" height="5" fill="#0044ff"/><rect x="180.9" y="555.7" width="5" height="5" fill="#0044ff"/><rect x="179.7" y="561.9" width="5" height="5" fill="#0044ff"/><rect x="193.6" y="570.9" width="5" height="5" fill="#0044ff"/><rect x="204.2" y="574.8" width="5" height="5" fill="#0044ff"/><rect x="207.1" y="581.2" width="5" height="5" fill="#0044ff"/><rect x="220.6" y="593.1" width="5" height="5" fill="#0044ff"/><rect x="223.0" y="594.5" width="5" height="5" fill="#0044ff"/><rect x="233.9" y="605.0" width="5" height="5" fill="#0044ff"/><rect x="242.5" y="613.5" width="5" height="5" fill="#0044ff"/><rect x="247.1" y="617.2" width="5" height="5" fill="#0044ff"/><rect x="260.1" y="631.5" width="5" height="5" fill="#0044ff"/><rect x="273.1" y="643.2" width="5" height="5" fill="#0044ff"/><rect x="280.1" y="652.4" width="5" height="5" fill="#0044ff"/><rect x="285.9" y="656.5" width="5" height="5" fill="#0044ff"/><rect x="298.8" y="667.7" width="5" height="5" fill="#0044ff"/><rect x="311.4" y="679.2" width="5" height="5" fill="#0044ff"/><rect x="324.1" y="691.3" width="5" height="5" fill="#0044ff"/></g><rect x="92" y="624" width="133.5" height="58.5" fill="#fff" stroke="#000" stroke-width="2"/><rect x="112" y="634" width="12.8" height="12.8" fill="#ff0000"/><rect x="112" y="658" width="12.8" height="12.8" fill="#0044ff"/><text x="143" y="648" font-size="21">AFM1B</text><text x="148.5" y="672" font-size="21">AFM2</text><line x1="63" y1="432" x2="71.5" y2="432" stroke="#000" stroke-width="2"/><line x1="63" y1="545" x2="71.5" y2="545" stroke="#000" stroke-width="2"/><line x1="63" y1="658" x2="71.5" y2="658" stroke="#000" stroke-width="2"/><line x1="71.2" y1="703" x2="71.2" y2="711" stroke="#000" stroke-width="2"/><line x1="107.4" y1="703" x2="107.4" y2="711" stroke="#000" stroke-width="2"/><line x1="143.6" y1="703" x2="143.6" y2="711" stroke="#000" stroke-width="2"/><line x1="179.8" y1="703" x2="179.8" y2="711" stroke="#000" stroke-width="2"/><line x1="216" y1="703" x2="216" y2="711" stroke="#000" stroke-width="2"/><line x1="252.2" y1="703" x2="252.2" y2="711" stroke="#000" stroke-width="2"/><line x1="288.4" y1="703" x2="288.4" y2="711" stroke="#000" stroke-width="2"/><line x1="325" y1="703" x2="325" y2="711" stroke="#000" stroke-width="2"/><text x="56" y="439" font-size="20" text-anchor="end">0.0</text><text x="56" y="665" font-size="20" text-anchor="end">0.1</text><text x="107.4" y="735" font-size="20" text-anchor="middle">0.22</text><text x="179.8" y="735" font-size="20" text-anchor="middle">0.26</text><text x="252.2" y="735" font-size="20" text-anchor="middle">0.30</text><text x="325" y="735" font-size="20" text-anchor="middle">0.34</text><text x="235.4" y="755" font-size="18.6" text-anchor="middle">Momentum (π/a)</text><text transform="translate(17 540) rotate(-90)" font-size="21.5" text-anchor="middle">Binding energy (eV)</text><text x="314" y="458" font-size="32" font-weight="bold" text-anchor="middle">e</text>
<line x1="404" y1="432.6" x2="411.5" y2="432.6" stroke="#111" stroke-width="1.6" />
<line x1="404" y1="486.3" x2="411.5" y2="486.3" stroke="#111" stroke-width="1.6" />
<line x1="404" y1="539.6" x2="411.5" y2="539.6" stroke="#111" stroke-width="1.6" />
<line x1="404" y1="593.7" x2="411.5" y2="593.7" stroke="#111" stroke-width="1.6" />
<line x1="404" y1="647.8" x2="411.5" y2="647.8" stroke="#111" stroke-width="1.6" />
<line x1="404" y1="702.5" x2="411.5" y2="702.5" stroke="#111" stroke-width="1.6" />
<line x1="411.6" y1="703" x2="411.6" y2="711" stroke="#111" stroke-width="1.6" />
<line x1="459.5" y1="703" x2="459.5" y2="711" stroke="#111" stroke-width="1.6" />
<line x1="507" y1="703" x2="507" y2="711" stroke="#111" stroke-width="1.6" />
<line x1="554.4" y1="703" x2="554.4" y2="711" stroke="#111" stroke-width="1.6" />
<line x1="601.8" y1="703" x2="601.8" y2="711" stroke="#111" stroke-width="1.6" />
<line x1="649.6" y1="703" x2="649.6" y2="711" stroke="#111" stroke-width="1.6" />
<text x="396" y="497" font-size="20" text-anchor="end" font-weight="normal" fill="#000" >4</text>
<text x="396" y="601" font-size="20" text-anchor="end" font-weight="normal" fill="#000" >2</text>
<text x="396" y="710" font-size="20" text-anchor="end" font-weight="normal" fill="#000" >0</text>
<text x="411.6" y="735" font-size="20" text-anchor="middle" font-weight="normal" fill="#000" >0</text>
<text x="507" y="735" font-size="20" text-anchor="middle" font-weight="normal" fill="#000" >10</text>
<text x="601.8" y="735" font-size="20" text-anchor="middle" font-weight="normal" fill="#000" >20</text>
<text x="523" y="755" font-size="19.8" text-anchor="middle" font-weight="normal" fill="#000" >Temperature (K)</text>
<text transform="translate(376.5 535) rotate(-90)" font-size="20" text-anchor="middle">μ<tspan font-size="15.5" dy="3.7">o</tspan><tspan dy="-3.7">H (T)</tspan></text>
</svg></body></html>
